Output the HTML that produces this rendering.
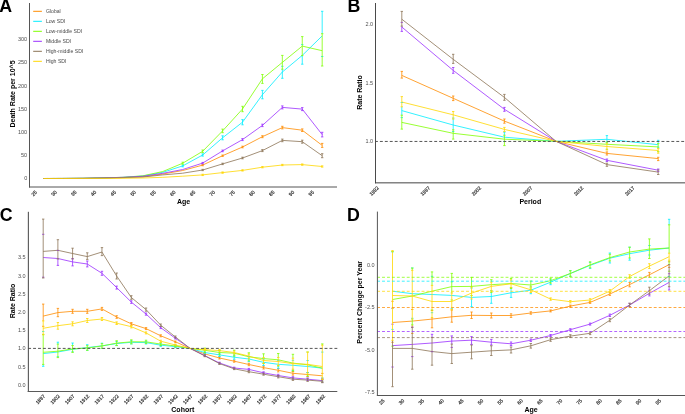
<!DOCTYPE html>
<html><head><meta charset="utf-8"><style>
html,body{margin:0;padding:0;background:#fff;}
svg{display:block;font-family:"Liberation Sans", sans-serif;will-change:transform;}
</style></head><body>
<svg width="685" height="414" viewBox="0 0 685 414">
<rect width="685" height="414" fill="#fff"/>
<polyline points="43.30,178.50 63.22,178.45 83.14,178.35 103.06,178.00 122.98,177.60 142.90,176.80 162.82,174.00 182.74,170.50 202.66,165.10 222.58,155.70 242.50,147.00 262.42,136.70 282.34,127.60 302.26,130.20 322.18,145.40" fill="none" stroke="#FF8C00" stroke-width="0.8" stroke-linejoin="round"/>
<polyline points="43.30,178.50 63.22,178.45 83.14,178.30 103.06,177.90 122.98,177.40 142.90,176.00 162.82,172.30 182.74,165.90 202.66,155.00 222.58,137.80 242.50,122.20 262.42,94.70 282.34,72.00 302.26,55.40 322.18,35.90" fill="none" stroke="#00EEFF" stroke-width="0.8" stroke-linejoin="round"/>
<polyline points="43.30,178.50 63.22,178.45 83.14,178.30 103.06,177.90 122.98,177.30 142.90,175.80 162.82,171.50 182.74,163.20 202.66,151.30 222.58,130.90 242.50,109.00 262.42,78.80 282.34,62.40 302.26,46.10 322.18,50.70" fill="none" stroke="#7FFF00" stroke-width="0.8" stroke-linejoin="round"/>
<polyline points="43.30,178.50 63.22,178.45 83.14,178.30 103.06,177.90 122.98,177.30 142.90,176.30 162.82,173.30 182.74,169.50 202.66,163.10 222.58,150.90 242.50,139.60 262.42,125.40 282.34,107.40 302.26,109.10 322.18,134.60" fill="none" stroke="#9B30FF" stroke-width="0.8" stroke-linejoin="round"/>
<polyline points="43.30,178.50 63.22,178.45 83.14,178.35 103.06,178.00 122.98,177.60 142.90,177.00 162.82,174.90 182.74,173.20 202.66,170.00 222.58,163.90 242.50,158.00 262.42,150.60 282.34,140.40 302.26,141.70 322.18,155.70" fill="none" stroke="#8B7355" stroke-width="0.8" stroke-linejoin="round"/>
<polyline points="43.30,178.50 63.22,178.50 83.14,178.45 103.06,178.40 122.98,178.30 142.90,178.00 162.82,177.30 182.74,176.20 202.66,174.90 222.58,172.60 242.50,170.40 262.42,167.20 282.34,165.00 302.26,164.60 322.18,166.50" fill="none" stroke="#FFD700" stroke-width="0.8" stroke-linejoin="round"/>
<line x1="202.66" y1="164.45" x2="202.66" y2="165.75" stroke="#FF8C00" stroke-width="0.8"/>
<line x1="201.46" y1="164.45" x2="203.86" y2="164.45" stroke="#FF8C00" stroke-width="0.8"/>
<line x1="201.46" y1="165.75" x2="203.86" y2="165.75" stroke="#FF8C00" stroke-width="0.8"/>
<line x1="222.58" y1="155.00" x2="222.58" y2="156.40" stroke="#FF8C00" stroke-width="0.8"/>
<line x1="221.38" y1="155.00" x2="223.78" y2="155.00" stroke="#FF8C00" stroke-width="0.8"/>
<line x1="221.38" y1="156.40" x2="223.78" y2="156.40" stroke="#FF8C00" stroke-width="0.8"/>
<line x1="242.50" y1="146.20" x2="242.50" y2="147.80" stroke="#FF8C00" stroke-width="0.8"/>
<line x1="241.30" y1="146.20" x2="243.70" y2="146.20" stroke="#FF8C00" stroke-width="0.8"/>
<line x1="241.30" y1="147.80" x2="243.70" y2="147.80" stroke="#FF8C00" stroke-width="0.8"/>
<line x1="262.42" y1="135.70" x2="262.42" y2="137.70" stroke="#FF8C00" stroke-width="0.8"/>
<line x1="261.22" y1="135.70" x2="263.62" y2="135.70" stroke="#FF8C00" stroke-width="0.8"/>
<line x1="261.22" y1="137.70" x2="263.62" y2="137.70" stroke="#FF8C00" stroke-width="0.8"/>
<line x1="282.34" y1="126.30" x2="282.34" y2="128.90" stroke="#FF8C00" stroke-width="0.8"/>
<line x1="281.14" y1="126.30" x2="283.54" y2="126.30" stroke="#FF8C00" stroke-width="0.8"/>
<line x1="281.14" y1="128.90" x2="283.54" y2="128.90" stroke="#FF8C00" stroke-width="0.8"/>
<line x1="302.26" y1="128.90" x2="302.26" y2="131.50" stroke="#FF8C00" stroke-width="0.8"/>
<line x1="301.06" y1="128.90" x2="303.46" y2="128.90" stroke="#FF8C00" stroke-width="0.8"/>
<line x1="301.06" y1="131.50" x2="303.46" y2="131.50" stroke="#FF8C00" stroke-width="0.8"/>
<line x1="322.18" y1="143.40" x2="322.18" y2="147.40" stroke="#FF8C00" stroke-width="0.8"/>
<line x1="320.98" y1="143.40" x2="323.38" y2="143.40" stroke="#FF8C00" stroke-width="0.8"/>
<line x1="320.98" y1="147.40" x2="323.38" y2="147.40" stroke="#FF8C00" stroke-width="0.8"/>
<line x1="182.74" y1="165.00" x2="182.74" y2="166.80" stroke="#00EEFF" stroke-width="0.8"/>
<line x1="181.54" y1="165.00" x2="183.94" y2="165.00" stroke="#00EEFF" stroke-width="0.8"/>
<line x1="181.54" y1="166.80" x2="183.94" y2="166.80" stroke="#00EEFF" stroke-width="0.8"/>
<line x1="202.66" y1="153.90" x2="202.66" y2="156.10" stroke="#00EEFF" stroke-width="0.8"/>
<line x1="201.46" y1="153.90" x2="203.86" y2="153.90" stroke="#00EEFF" stroke-width="0.8"/>
<line x1="201.46" y1="156.10" x2="203.86" y2="156.10" stroke="#00EEFF" stroke-width="0.8"/>
<line x1="222.58" y1="135.80" x2="222.58" y2="139.80" stroke="#00EEFF" stroke-width="0.8"/>
<line x1="221.38" y1="135.80" x2="223.78" y2="135.80" stroke="#00EEFF" stroke-width="0.8"/>
<line x1="221.38" y1="139.80" x2="223.78" y2="139.80" stroke="#00EEFF" stroke-width="0.8"/>
<line x1="242.50" y1="119.60" x2="242.50" y2="124.80" stroke="#00EEFF" stroke-width="0.8"/>
<line x1="241.30" y1="119.60" x2="243.70" y2="119.60" stroke="#00EEFF" stroke-width="0.8"/>
<line x1="241.30" y1="124.80" x2="243.70" y2="124.80" stroke="#00EEFF" stroke-width="0.8"/>
<line x1="262.42" y1="90.40" x2="262.42" y2="98.80" stroke="#00EEFF" stroke-width="0.8"/>
<line x1="261.22" y1="90.40" x2="263.62" y2="90.40" stroke="#00EEFF" stroke-width="0.8"/>
<line x1="261.22" y1="98.80" x2="263.62" y2="98.80" stroke="#00EEFF" stroke-width="0.8"/>
<line x1="282.34" y1="69.20" x2="282.34" y2="78.30" stroke="#00EEFF" stroke-width="0.8"/>
<line x1="281.14" y1="66.30" x2="283.54" y2="66.30" stroke="#00EEFF" stroke-width="0.8"/>
<line x1="281.14" y1="78.30" x2="283.54" y2="78.30" stroke="#00EEFF" stroke-width="0.8"/>
<line x1="302.26" y1="55.60" x2="302.26" y2="64.20" stroke="#00EEFF" stroke-width="0.8"/>
<line x1="301.06" y1="44.60" x2="303.46" y2="44.60" stroke="#00EEFF" stroke-width="0.8"/>
<line x1="301.06" y1="64.20" x2="303.46" y2="64.20" stroke="#00EEFF" stroke-width="0.8"/>
<line x1="322.18" y1="11.30" x2="322.18" y2="33.70" stroke="#00EEFF" stroke-width="0.8"/>
<line x1="320.98" y1="11.30" x2="323.38" y2="11.30" stroke="#00EEFF" stroke-width="0.8"/>
<line x1="320.98" y1="56.50" x2="323.38" y2="56.50" stroke="#00EEFF" stroke-width="0.8"/>
<line x1="182.74" y1="162.20" x2="182.74" y2="164.20" stroke="#7FFF00" stroke-width="0.8"/>
<line x1="181.54" y1="162.20" x2="183.94" y2="162.20" stroke="#7FFF00" stroke-width="0.8"/>
<line x1="181.54" y1="164.20" x2="183.94" y2="164.20" stroke="#7FFF00" stroke-width="0.8"/>
<line x1="202.66" y1="150.00" x2="202.66" y2="152.60" stroke="#7FFF00" stroke-width="0.8"/>
<line x1="201.46" y1="150.00" x2="203.86" y2="150.00" stroke="#7FFF00" stroke-width="0.8"/>
<line x1="201.46" y1="152.60" x2="203.86" y2="152.60" stroke="#7FFF00" stroke-width="0.8"/>
<line x1="222.58" y1="129.10" x2="222.58" y2="132.70" stroke="#7FFF00" stroke-width="0.8"/>
<line x1="221.38" y1="129.10" x2="223.78" y2="129.10" stroke="#7FFF00" stroke-width="0.8"/>
<line x1="221.38" y1="132.70" x2="223.78" y2="132.70" stroke="#7FFF00" stroke-width="0.8"/>
<line x1="242.50" y1="106.30" x2="242.50" y2="111.70" stroke="#7FFF00" stroke-width="0.8"/>
<line x1="241.30" y1="106.30" x2="243.70" y2="106.30" stroke="#7FFF00" stroke-width="0.8"/>
<line x1="241.30" y1="111.70" x2="243.70" y2="111.70" stroke="#7FFF00" stroke-width="0.8"/>
<line x1="262.42" y1="74.50" x2="262.42" y2="83.40" stroke="#7FFF00" stroke-width="0.8"/>
<line x1="261.22" y1="74.50" x2="263.62" y2="74.50" stroke="#7FFF00" stroke-width="0.8"/>
<line x1="261.22" y1="83.40" x2="263.62" y2="83.40" stroke="#7FFF00" stroke-width="0.8"/>
<line x1="282.34" y1="55.40" x2="282.34" y2="69.20" stroke="#7FFF00" stroke-width="0.8"/>
<line x1="281.14" y1="55.40" x2="283.54" y2="55.40" stroke="#7FFF00" stroke-width="0.8"/>
<line x1="281.14" y1="69.20" x2="283.54" y2="69.20" stroke="#7FFF00" stroke-width="0.8"/>
<line x1="302.26" y1="36.60" x2="302.26" y2="55.60" stroke="#7FFF00" stroke-width="0.8"/>
<line x1="301.06" y1="36.60" x2="303.46" y2="36.60" stroke="#7FFF00" stroke-width="0.8"/>
<line x1="301.06" y1="55.60" x2="303.46" y2="55.60" stroke="#7FFF00" stroke-width="0.8"/>
<line x1="322.18" y1="33.70" x2="322.18" y2="66.00" stroke="#7FFF00" stroke-width="0.8"/>
<line x1="320.98" y1="33.70" x2="323.38" y2="33.70" stroke="#7FFF00" stroke-width="0.8"/>
<line x1="320.98" y1="66.00" x2="323.38" y2="66.00" stroke="#7FFF00" stroke-width="0.8"/>
<line x1="202.66" y1="162.40" x2="202.66" y2="163.80" stroke="#9B30FF" stroke-width="0.8"/>
<line x1="201.46" y1="162.40" x2="203.86" y2="162.40" stroke="#9B30FF" stroke-width="0.8"/>
<line x1="201.46" y1="163.80" x2="203.86" y2="163.80" stroke="#9B30FF" stroke-width="0.8"/>
<line x1="222.58" y1="150.10" x2="222.58" y2="151.70" stroke="#9B30FF" stroke-width="0.8"/>
<line x1="221.38" y1="150.10" x2="223.78" y2="150.10" stroke="#9B30FF" stroke-width="0.8"/>
<line x1="221.38" y1="151.70" x2="223.78" y2="151.70" stroke="#9B30FF" stroke-width="0.8"/>
<line x1="242.50" y1="138.60" x2="242.50" y2="140.60" stroke="#9B30FF" stroke-width="0.8"/>
<line x1="241.30" y1="138.60" x2="243.70" y2="138.60" stroke="#9B30FF" stroke-width="0.8"/>
<line x1="241.30" y1="140.60" x2="243.70" y2="140.60" stroke="#9B30FF" stroke-width="0.8"/>
<line x1="262.42" y1="124.20" x2="262.42" y2="126.60" stroke="#9B30FF" stroke-width="0.8"/>
<line x1="261.22" y1="124.20" x2="263.62" y2="124.20" stroke="#9B30FF" stroke-width="0.8"/>
<line x1="261.22" y1="126.60" x2="263.62" y2="126.60" stroke="#9B30FF" stroke-width="0.8"/>
<line x1="282.34" y1="105.90" x2="282.34" y2="108.90" stroke="#9B30FF" stroke-width="0.8"/>
<line x1="281.14" y1="105.90" x2="283.54" y2="105.90" stroke="#9B30FF" stroke-width="0.8"/>
<line x1="281.14" y1="108.90" x2="283.54" y2="108.90" stroke="#9B30FF" stroke-width="0.8"/>
<line x1="302.26" y1="107.60" x2="302.26" y2="110.60" stroke="#9B30FF" stroke-width="0.8"/>
<line x1="301.06" y1="107.60" x2="303.46" y2="107.60" stroke="#9B30FF" stroke-width="0.8"/>
<line x1="301.06" y1="110.60" x2="303.46" y2="110.60" stroke="#9B30FF" stroke-width="0.8"/>
<line x1="322.18" y1="132.30" x2="322.18" y2="136.90" stroke="#9B30FF" stroke-width="0.8"/>
<line x1="320.98" y1="132.30" x2="323.38" y2="132.30" stroke="#9B30FF" stroke-width="0.8"/>
<line x1="320.98" y1="136.90" x2="323.38" y2="136.90" stroke="#9B30FF" stroke-width="0.8"/>
<line x1="202.66" y1="169.35" x2="202.66" y2="170.65" stroke="#8B7355" stroke-width="0.8"/>
<line x1="201.46" y1="169.35" x2="203.86" y2="169.35" stroke="#8B7355" stroke-width="0.8"/>
<line x1="201.46" y1="170.65" x2="203.86" y2="170.65" stroke="#8B7355" stroke-width="0.8"/>
<line x1="222.58" y1="163.20" x2="222.58" y2="164.60" stroke="#8B7355" stroke-width="0.8"/>
<line x1="221.38" y1="163.20" x2="223.78" y2="163.20" stroke="#8B7355" stroke-width="0.8"/>
<line x1="221.38" y1="164.60" x2="223.78" y2="164.60" stroke="#8B7355" stroke-width="0.8"/>
<line x1="242.50" y1="157.20" x2="242.50" y2="158.80" stroke="#8B7355" stroke-width="0.8"/>
<line x1="241.30" y1="157.20" x2="243.70" y2="157.20" stroke="#8B7355" stroke-width="0.8"/>
<line x1="241.30" y1="158.80" x2="243.70" y2="158.80" stroke="#8B7355" stroke-width="0.8"/>
<line x1="262.42" y1="149.60" x2="262.42" y2="151.60" stroke="#8B7355" stroke-width="0.8"/>
<line x1="261.22" y1="149.60" x2="263.62" y2="149.60" stroke="#8B7355" stroke-width="0.8"/>
<line x1="261.22" y1="151.60" x2="263.62" y2="151.60" stroke="#8B7355" stroke-width="0.8"/>
<line x1="282.34" y1="139.10" x2="282.34" y2="141.70" stroke="#8B7355" stroke-width="0.8"/>
<line x1="281.14" y1="139.10" x2="283.54" y2="139.10" stroke="#8B7355" stroke-width="0.8"/>
<line x1="281.14" y1="141.70" x2="283.54" y2="141.70" stroke="#8B7355" stroke-width="0.8"/>
<line x1="302.26" y1="140.20" x2="302.26" y2="143.20" stroke="#8B7355" stroke-width="0.8"/>
<line x1="301.06" y1="140.20" x2="303.46" y2="140.20" stroke="#8B7355" stroke-width="0.8"/>
<line x1="301.06" y1="143.20" x2="303.46" y2="143.20" stroke="#8B7355" stroke-width="0.8"/>
<line x1="322.18" y1="153.70" x2="322.18" y2="157.70" stroke="#8B7355" stroke-width="0.8"/>
<line x1="320.98" y1="153.70" x2="323.38" y2="153.70" stroke="#8B7355" stroke-width="0.8"/>
<line x1="320.98" y1="157.70" x2="323.38" y2="157.70" stroke="#8B7355" stroke-width="0.8"/>
<line x1="202.66" y1="174.25" x2="202.66" y2="175.55" stroke="#FFD700" stroke-width="0.8"/>
<line x1="201.46" y1="174.25" x2="203.86" y2="174.25" stroke="#FFD700" stroke-width="0.8"/>
<line x1="201.46" y1="175.55" x2="203.86" y2="175.55" stroke="#FFD700" stroke-width="0.8"/>
<line x1="222.58" y1="171.95" x2="222.58" y2="173.25" stroke="#FFD700" stroke-width="0.8"/>
<line x1="221.38" y1="171.95" x2="223.78" y2="171.95" stroke="#FFD700" stroke-width="0.8"/>
<line x1="221.38" y1="173.25" x2="223.78" y2="173.25" stroke="#FFD700" stroke-width="0.8"/>
<line x1="242.50" y1="169.75" x2="242.50" y2="171.05" stroke="#FFD700" stroke-width="0.8"/>
<line x1="241.30" y1="169.75" x2="243.70" y2="169.75" stroke="#FFD700" stroke-width="0.8"/>
<line x1="241.30" y1="171.05" x2="243.70" y2="171.05" stroke="#FFD700" stroke-width="0.8"/>
<line x1="262.42" y1="166.55" x2="262.42" y2="167.85" stroke="#FFD700" stroke-width="0.8"/>
<line x1="261.22" y1="166.55" x2="263.62" y2="166.55" stroke="#FFD700" stroke-width="0.8"/>
<line x1="261.22" y1="167.85" x2="263.62" y2="167.85" stroke="#FFD700" stroke-width="0.8"/>
<line x1="282.34" y1="164.35" x2="282.34" y2="165.65" stroke="#FFD700" stroke-width="0.8"/>
<line x1="281.14" y1="164.35" x2="283.54" y2="164.35" stroke="#FFD700" stroke-width="0.8"/>
<line x1="281.14" y1="165.65" x2="283.54" y2="165.65" stroke="#FFD700" stroke-width="0.8"/>
<line x1="302.26" y1="163.95" x2="302.26" y2="165.25" stroke="#FFD700" stroke-width="0.8"/>
<line x1="301.06" y1="163.95" x2="303.46" y2="163.95" stroke="#FFD700" stroke-width="0.8"/>
<line x1="301.06" y1="165.25" x2="303.46" y2="165.25" stroke="#FFD700" stroke-width="0.8"/>
<line x1="322.18" y1="165.85" x2="322.18" y2="167.15" stroke="#FFD700" stroke-width="0.8"/>
<line x1="320.98" y1="165.85" x2="323.38" y2="165.85" stroke="#FFD700" stroke-width="0.8"/>
<line x1="320.98" y1="167.15" x2="323.38" y2="167.15" stroke="#FFD700" stroke-width="0.8"/>
<line x1="29.50" y1="3.00" x2="29.50" y2="187.50" stroke="#555" stroke-width="1"/>
<line x1="29.00" y1="187.00" x2="337.00" y2="187.00" stroke="#555" stroke-width="1"/>
<text x="27.20" y="180.20" font-size="5.5" text-anchor="end" font-weight="normal" fill="#4d4d4d">0</text>
<text x="27.20" y="157.05" font-size="5.5" text-anchor="end" font-weight="normal" fill="#4d4d4d">50</text>
<text x="27.20" y="133.90" font-size="5.5" text-anchor="end" font-weight="normal" fill="#4d4d4d">100</text>
<text x="27.20" y="110.75" font-size="5.5" text-anchor="end" font-weight="normal" fill="#4d4d4d">150</text>
<text x="27.20" y="87.60" font-size="5.5" text-anchor="end" font-weight="normal" fill="#4d4d4d">200</text>
<text x="27.20" y="64.45" font-size="5.5" text-anchor="end" font-weight="normal" fill="#4d4d4d">250</text>
<text x="27.20" y="41.30" font-size="5.5" text-anchor="end" font-weight="normal" fill="#4d4d4d">300</text>
<text transform="translate(34.10 193.30) rotate(-45)" x="0" y="1.79" font-size="5.0" text-anchor="middle" fill="#333" stroke="#333" stroke-width="0.2">25</text>
<text transform="translate(53.90 193.30) rotate(-45)" x="0" y="1.79" font-size="5.0" text-anchor="middle" fill="#333" stroke="#333" stroke-width="0.2">30</text>
<text transform="translate(73.70 193.30) rotate(-45)" x="0" y="1.79" font-size="5.0" text-anchor="middle" fill="#333" stroke="#333" stroke-width="0.2">35</text>
<text transform="translate(93.50 193.30) rotate(-45)" x="0" y="1.79" font-size="5.0" text-anchor="middle" fill="#333" stroke="#333" stroke-width="0.2">40</text>
<text transform="translate(113.30 193.30) rotate(-45)" x="0" y="1.79" font-size="5.0" text-anchor="middle" fill="#333" stroke="#333" stroke-width="0.2">45</text>
<text transform="translate(133.10 193.30) rotate(-45)" x="0" y="1.79" font-size="5.0" text-anchor="middle" fill="#333" stroke="#333" stroke-width="0.2">50</text>
<text transform="translate(152.90 193.30) rotate(-45)" x="0" y="1.79" font-size="5.0" text-anchor="middle" fill="#333" stroke="#333" stroke-width="0.2">55</text>
<text transform="translate(172.70 193.30) rotate(-45)" x="0" y="1.79" font-size="5.0" text-anchor="middle" fill="#333" stroke="#333" stroke-width="0.2">60</text>
<text transform="translate(192.50 193.30) rotate(-45)" x="0" y="1.79" font-size="5.0" text-anchor="middle" fill="#333" stroke="#333" stroke-width="0.2">65</text>
<text transform="translate(212.30 193.30) rotate(-45)" x="0" y="1.79" font-size="5.0" text-anchor="middle" fill="#333" stroke="#333" stroke-width="0.2">70</text>
<text transform="translate(232.10 193.30) rotate(-45)" x="0" y="1.79" font-size="5.0" text-anchor="middle" fill="#333" stroke="#333" stroke-width="0.2">75</text>
<text transform="translate(251.90 193.30) rotate(-45)" x="0" y="1.79" font-size="5.0" text-anchor="middle" fill="#333" stroke="#333" stroke-width="0.2">80</text>
<text transform="translate(271.70 193.30) rotate(-45)" x="0" y="1.79" font-size="5.0" text-anchor="middle" fill="#333" stroke="#333" stroke-width="0.2">85</text>
<text transform="translate(291.50 193.30) rotate(-45)" x="0" y="1.79" font-size="5.0" text-anchor="middle" fill="#333" stroke="#333" stroke-width="0.2">90</text>
<text transform="translate(311.30 193.30) rotate(-45)" x="0" y="1.79" font-size="5.0" text-anchor="middle" fill="#333" stroke="#333" stroke-width="0.2">95</text>
<text x="183.50" y="204.00" font-size="7" text-anchor="middle" font-weight="bold" fill="#000">Age</text>
<text x="15.20" y="94.00" font-size="7" text-anchor="middle" font-weight="bold" fill="#000" transform="rotate(-90 15.20 94.00)">Death Rate per 10^5</text>
<line x1="33.20" y1="11.30" x2="41.90" y2="11.30" stroke="#FF8C00" stroke-width="1"/>
<text x="45.90" y="13.15" font-size="5.15" text-anchor="start" font-weight="normal" fill="#4a4a4a">Global</text>
<line x1="33.20" y1="21.30" x2="41.90" y2="21.30" stroke="#00EEFF" stroke-width="1"/>
<text x="45.90" y="23.15" font-size="5.15" text-anchor="start" font-weight="normal" fill="#4a4a4a">Low SDI</text>
<line x1="33.20" y1="31.30" x2="41.90" y2="31.30" stroke="#7FFF00" stroke-width="1"/>
<text x="45.90" y="33.15" font-size="5.15" text-anchor="start" font-weight="normal" fill="#4a4a4a">Low-middle SDI</text>
<line x1="33.20" y1="41.30" x2="41.90" y2="41.30" stroke="#9B30FF" stroke-width="1"/>
<text x="45.90" y="43.15" font-size="5.15" text-anchor="start" font-weight="normal" fill="#4a4a4a">Middle SDI</text>
<line x1="33.20" y1="51.30" x2="41.90" y2="51.30" stroke="#8B7355" stroke-width="1"/>
<text x="45.90" y="53.15" font-size="5.15" text-anchor="start" font-weight="normal" fill="#4a4a4a">High-middle SDI</text>
<line x1="33.20" y1="61.30" x2="41.90" y2="61.30" stroke="#FFD700" stroke-width="1"/>
<text x="45.90" y="63.15" font-size="5.15" text-anchor="start" font-weight="normal" fill="#4a4a4a">High SDI</text>
<text x="-0.70" y="12.40" font-size="17.8" text-anchor="start" font-weight="bold" fill="#000">A</text>
<polyline points="401.80,75.40 453.20,98.30 504.40,121.10 556.00,141.30 606.90,153.40 658.20,158.60" fill="none" stroke="#FF8C00" stroke-width="0.8" stroke-linejoin="round"/>
<polyline points="401.80,110.60 453.20,125.00 504.40,137.20 556.00,141.30 606.90,139.30 658.20,144.70" fill="none" stroke="#00EEFF" stroke-width="0.8" stroke-linejoin="round"/>
<polyline points="401.80,122.40 453.20,133.30 504.40,139.20 556.00,141.30 606.90,144.30 658.20,146.90" fill="none" stroke="#7FFF00" stroke-width="0.8" stroke-linejoin="round"/>
<polyline points="401.80,27.00 453.20,70.40 504.40,109.30 556.00,141.30 606.90,160.30 658.20,170.20" fill="none" stroke="#9B30FF" stroke-width="0.8" stroke-linejoin="round"/>
<polyline points="401.80,19.20 453.20,59.30 504.40,97.40 556.00,141.30 606.90,164.60 658.20,172.10" fill="none" stroke="#8B7355" stroke-width="0.8" stroke-linejoin="round"/>
<polyline points="401.80,102.00 453.20,114.80 504.40,129.40 556.00,141.30 606.90,146.50 658.20,150.50" fill="none" stroke="#FFD700" stroke-width="0.8" stroke-linejoin="round"/>
<line x1="401.80" y1="71.40" x2="401.80" y2="78.10" stroke="#FF8C00" stroke-width="0.8"/>
<line x1="400.60" y1="71.40" x2="403.00" y2="71.40" stroke="#FF8C00" stroke-width="0.8"/>
<line x1="400.60" y1="78.10" x2="403.00" y2="78.10" stroke="#FF8C00" stroke-width="0.8"/>
<line x1="453.20" y1="96.00" x2="453.20" y2="100.60" stroke="#FF8C00" stroke-width="0.8"/>
<line x1="452.00" y1="96.00" x2="454.40" y2="96.00" stroke="#FF8C00" stroke-width="0.8"/>
<line x1="452.00" y1="100.60" x2="454.40" y2="100.60" stroke="#FF8C00" stroke-width="0.8"/>
<line x1="504.40" y1="119.00" x2="504.40" y2="123.20" stroke="#FF8C00" stroke-width="0.8"/>
<line x1="503.20" y1="119.00" x2="505.60" y2="119.00" stroke="#FF8C00" stroke-width="0.8"/>
<line x1="503.20" y1="123.20" x2="505.60" y2="123.20" stroke="#FF8C00" stroke-width="0.8"/>
<line x1="606.90" y1="151.90" x2="606.90" y2="155.00" stroke="#FF8C00" stroke-width="0.8"/>
<line x1="605.70" y1="151.90" x2="608.10" y2="151.90" stroke="#FF8C00" stroke-width="0.8"/>
<line x1="605.70" y1="155.00" x2="608.10" y2="155.00" stroke="#FF8C00" stroke-width="0.8"/>
<line x1="658.20" y1="157.30" x2="658.20" y2="160.60" stroke="#FF8C00" stroke-width="0.8"/>
<line x1="657.00" y1="157.30" x2="659.40" y2="157.30" stroke="#FF8C00" stroke-width="0.8"/>
<line x1="657.00" y1="160.60" x2="659.40" y2="160.60" stroke="#FF8C00" stroke-width="0.8"/>
<line x1="401.80" y1="106.80" x2="401.80" y2="115.20" stroke="#00EEFF" stroke-width="0.8"/>
<line x1="400.60" y1="102.50" x2="403.00" y2="102.50" stroke="#00EEFF" stroke-width="0.8"/>
<line x1="400.60" y1="117.60" x2="403.00" y2="117.60" stroke="#00EEFF" stroke-width="0.8"/>
<line x1="453.20" y1="119.00" x2="453.20" y2="129.80" stroke="#00EEFF" stroke-width="0.8"/>
<line x1="452.00" y1="118.00" x2="454.40" y2="118.00" stroke="#00EEFF" stroke-width="0.8"/>
<line x1="452.00" y1="131.50" x2="454.40" y2="131.50" stroke="#00EEFF" stroke-width="0.8"/>
<line x1="504.40" y1="132.10" x2="504.40" y2="135.20" stroke="#00EEFF" stroke-width="0.8"/>
<line x1="503.20" y1="132.10" x2="505.60" y2="132.10" stroke="#00EEFF" stroke-width="0.8"/>
<line x1="503.20" y1="141.50" x2="505.60" y2="141.50" stroke="#00EEFF" stroke-width="0.8"/>
<line x1="606.90" y1="135.60" x2="606.90" y2="141.90" stroke="#00EEFF" stroke-width="0.8"/>
<line x1="605.70" y1="135.60" x2="608.10" y2="135.60" stroke="#00EEFF" stroke-width="0.8"/>
<line x1="605.70" y1="142.40" x2="608.10" y2="142.40" stroke="#00EEFF" stroke-width="0.8"/>
<line x1="658.20" y1="140.30" x2="658.20" y2="143.60" stroke="#00EEFF" stroke-width="0.8"/>
<line x1="657.00" y1="140.30" x2="659.40" y2="140.30" stroke="#00EEFF" stroke-width="0.8"/>
<line x1="657.00" y1="147.20" x2="659.40" y2="147.20" stroke="#00EEFF" stroke-width="0.8"/>
<line x1="401.80" y1="115.20" x2="401.80" y2="129.10" stroke="#7FFF00" stroke-width="0.8"/>
<line x1="400.60" y1="115.20" x2="403.00" y2="115.20" stroke="#7FFF00" stroke-width="0.8"/>
<line x1="400.60" y1="129.10" x2="403.00" y2="129.10" stroke="#7FFF00" stroke-width="0.8"/>
<line x1="453.20" y1="129.80" x2="453.20" y2="139.10" stroke="#7FFF00" stroke-width="0.8"/>
<line x1="452.00" y1="129.80" x2="454.40" y2="129.80" stroke="#7FFF00" stroke-width="0.8"/>
<line x1="452.00" y1="139.10" x2="454.40" y2="139.10" stroke="#7FFF00" stroke-width="0.8"/>
<line x1="504.40" y1="135.20" x2="504.40" y2="145.60" stroke="#7FFF00" stroke-width="0.8"/>
<line x1="503.20" y1="135.20" x2="505.60" y2="135.20" stroke="#7FFF00" stroke-width="0.8"/>
<line x1="503.20" y1="145.60" x2="505.60" y2="145.60" stroke="#7FFF00" stroke-width="0.8"/>
<line x1="606.90" y1="141.90" x2="606.90" y2="143.20" stroke="#7FFF00" stroke-width="0.8"/>
<line x1="605.70" y1="141.90" x2="608.10" y2="141.90" stroke="#7FFF00" stroke-width="0.8"/>
<line x1="605.70" y1="149.20" x2="608.10" y2="149.20" stroke="#7FFF00" stroke-width="0.8"/>
<line x1="658.20" y1="143.60" x2="658.20" y2="148.60" stroke="#7FFF00" stroke-width="0.8"/>
<line x1="657.00" y1="143.60" x2="659.40" y2="143.60" stroke="#7FFF00" stroke-width="0.8"/>
<line x1="657.00" y1="151.60" x2="659.40" y2="151.60" stroke="#7FFF00" stroke-width="0.8"/>
<line x1="401.80" y1="26.10" x2="401.80" y2="31.40" stroke="#9B30FF" stroke-width="0.8"/>
<line x1="400.60" y1="22.40" x2="403.00" y2="22.40" stroke="#9B30FF" stroke-width="0.8"/>
<line x1="400.60" y1="31.40" x2="403.00" y2="31.40" stroke="#9B30FF" stroke-width="0.8"/>
<line x1="453.20" y1="67.50" x2="453.20" y2="73.30" stroke="#9B30FF" stroke-width="0.8"/>
<line x1="452.00" y1="67.50" x2="454.40" y2="67.50" stroke="#9B30FF" stroke-width="0.8"/>
<line x1="452.00" y1="73.30" x2="454.40" y2="73.30" stroke="#9B30FF" stroke-width="0.8"/>
<line x1="504.40" y1="107.40" x2="504.40" y2="111.30" stroke="#9B30FF" stroke-width="0.8"/>
<line x1="503.20" y1="107.40" x2="505.60" y2="107.40" stroke="#9B30FF" stroke-width="0.8"/>
<line x1="503.20" y1="111.30" x2="505.60" y2="111.30" stroke="#9B30FF" stroke-width="0.8"/>
<line x1="606.90" y1="159.00" x2="606.90" y2="161.50" stroke="#9B30FF" stroke-width="0.8"/>
<line x1="605.70" y1="159.00" x2="608.10" y2="159.00" stroke="#9B30FF" stroke-width="0.8"/>
<line x1="605.70" y1="161.50" x2="608.10" y2="161.50" stroke="#9B30FF" stroke-width="0.8"/>
<line x1="658.20" y1="169.00" x2="658.20" y2="170.00" stroke="#9B30FF" stroke-width="0.8"/>
<line x1="657.00" y1="169.00" x2="659.40" y2="169.00" stroke="#9B30FF" stroke-width="0.8"/>
<line x1="657.00" y1="171.60" x2="659.40" y2="171.60" stroke="#9B30FF" stroke-width="0.8"/>
<line x1="401.80" y1="11.40" x2="401.80" y2="26.10" stroke="#8B7355" stroke-width="0.8"/>
<line x1="400.60" y1="11.40" x2="403.00" y2="11.40" stroke="#8B7355" stroke-width="0.8"/>
<line x1="400.60" y1="26.10" x2="403.00" y2="26.10" stroke="#8B7355" stroke-width="0.8"/>
<line x1="453.20" y1="54.30" x2="453.20" y2="63.40" stroke="#8B7355" stroke-width="0.8"/>
<line x1="452.00" y1="54.30" x2="454.40" y2="54.30" stroke="#8B7355" stroke-width="0.8"/>
<line x1="452.00" y1="63.40" x2="454.40" y2="63.40" stroke="#8B7355" stroke-width="0.8"/>
<line x1="504.40" y1="94.40" x2="504.40" y2="100.30" stroke="#8B7355" stroke-width="0.8"/>
<line x1="503.20" y1="94.40" x2="505.60" y2="94.40" stroke="#8B7355" stroke-width="0.8"/>
<line x1="503.20" y1="100.30" x2="505.60" y2="100.30" stroke="#8B7355" stroke-width="0.8"/>
<line x1="606.90" y1="163.20" x2="606.90" y2="166.30" stroke="#8B7355" stroke-width="0.8"/>
<line x1="605.70" y1="163.20" x2="608.10" y2="163.20" stroke="#8B7355" stroke-width="0.8"/>
<line x1="605.70" y1="166.30" x2="608.10" y2="166.30" stroke="#8B7355" stroke-width="0.8"/>
<line x1="658.20" y1="170.00" x2="658.20" y2="174.50" stroke="#8B7355" stroke-width="0.8"/>
<line x1="657.00" y1="170.00" x2="659.40" y2="170.00" stroke="#8B7355" stroke-width="0.8"/>
<line x1="657.00" y1="174.50" x2="659.40" y2="174.50" stroke="#8B7355" stroke-width="0.8"/>
<line x1="401.80" y1="96.60" x2="401.80" y2="106.80" stroke="#FFD700" stroke-width="0.8"/>
<line x1="400.60" y1="96.60" x2="403.00" y2="96.60" stroke="#FFD700" stroke-width="0.8"/>
<line x1="400.60" y1="106.80" x2="403.00" y2="106.80" stroke="#FFD700" stroke-width="0.8"/>
<line x1="453.20" y1="111.50" x2="453.20" y2="119.00" stroke="#FFD700" stroke-width="0.8"/>
<line x1="452.00" y1="111.50" x2="454.40" y2="111.50" stroke="#FFD700" stroke-width="0.8"/>
<line x1="452.00" y1="119.00" x2="454.40" y2="119.00" stroke="#FFD700" stroke-width="0.8"/>
<line x1="504.40" y1="127.40" x2="504.40" y2="131.60" stroke="#FFD700" stroke-width="0.8"/>
<line x1="503.20" y1="127.40" x2="505.60" y2="127.40" stroke="#FFD700" stroke-width="0.8"/>
<line x1="503.20" y1="131.60" x2="505.60" y2="131.60" stroke="#FFD700" stroke-width="0.8"/>
<line x1="606.90" y1="143.20" x2="606.90" y2="150.00" stroke="#FFD700" stroke-width="0.8"/>
<line x1="605.70" y1="143.20" x2="608.10" y2="143.20" stroke="#FFD700" stroke-width="0.8"/>
<line x1="605.70" y1="150.00" x2="608.10" y2="150.00" stroke="#FFD700" stroke-width="0.8"/>
<line x1="658.20" y1="148.60" x2="658.20" y2="153.20" stroke="#FFD700" stroke-width="0.8"/>
<line x1="657.00" y1="148.60" x2="659.40" y2="148.60" stroke="#FFD700" stroke-width="0.8"/>
<line x1="657.00" y1="153.20" x2="659.40" y2="153.20" stroke="#FFD700" stroke-width="0.8"/>
<line x1="375.50" y1="141.45" x2="685.00" y2="141.45" stroke="#555" stroke-width="1.0" stroke-dasharray="2.9,2.04" stroke-dashoffset="0.54"/>
<line x1="375.50" y1="3.00" x2="375.50" y2="183.30" stroke="#4a4a4a" stroke-width="1"/>
<line x1="375.00" y1="182.85" x2="685.00" y2="182.85" stroke="#444" stroke-width="1"/>
<text x="373.20" y="26.00" font-size="5.5" text-anchor="end" font-weight="normal" fill="#4d4d4d">2.0</text>
<text x="373.20" y="84.60" font-size="5.5" text-anchor="end" font-weight="normal" fill="#4d4d4d">1.5</text>
<text x="373.20" y="143.30" font-size="5.5" text-anchor="end" font-weight="normal" fill="#4d4d4d">1.0</text>
<text transform="translate(374.10 190.90) rotate(-45)" x="0" y="1.79" font-size="5.0" text-anchor="middle" fill="#333" stroke="#333" stroke-width="0.2">1992</text>
<text transform="translate(425.22 190.90) rotate(-45)" x="0" y="1.79" font-size="5.0" text-anchor="middle" fill="#333" stroke="#333" stroke-width="0.2">1997</text>
<text transform="translate(476.34 190.90) rotate(-45)" x="0" y="1.79" font-size="5.0" text-anchor="middle" fill="#333" stroke="#333" stroke-width="0.2">2002</text>
<text transform="translate(527.46 190.90) rotate(-45)" x="0" y="1.79" font-size="5.0" text-anchor="middle" fill="#333" stroke="#333" stroke-width="0.2">2007</text>
<text transform="translate(578.58 190.90) rotate(-45)" x="0" y="1.79" font-size="5.0" text-anchor="middle" fill="#333" stroke="#333" stroke-width="0.2">2012</text>
<text transform="translate(629.70 190.90) rotate(-45)" x="0" y="1.79" font-size="5.0" text-anchor="middle" fill="#333" stroke="#333" stroke-width="0.2">2017</text>
<text x="530.30" y="203.90" font-size="7" text-anchor="middle" font-weight="bold" fill="#000">Period</text>
<text x="362.10" y="92.50" font-size="7" text-anchor="middle" font-weight="bold" fill="#000" transform="rotate(-90 362.10 92.50)">Rate Ratio</text>
<text x="347.40" y="12.40" font-size="17.8" text-anchor="start" font-weight="bold" fill="#000">B</text>
<polyline points="43.20,316.10 57.89,312.60 72.58,311.30 87.27,311.30 101.96,308.90 116.65,317.00 131.34,323.80 146.03,328.60 160.72,335.80 175.41,341.80 190.10,348.40 204.79,353.90 219.48,358.00 234.17,361.20 248.86,364.50 263.55,367.60 278.24,370.30 292.93,373.30 307.62,374.50 322.31,375.80" fill="none" stroke="#FF8C00" stroke-width="0.8" stroke-linejoin="round"/>
<polyline points="43.20,353.60 57.89,352.00 72.58,349.30 87.27,347.60 101.96,345.80 116.65,343.60 131.34,342.30 146.03,342.60 160.72,345.20 175.41,346.60 190.10,348.40 204.79,352.50 219.48,354.90 234.17,357.20 248.86,359.00 263.55,362.30 278.24,364.30 292.93,365.30 307.62,366.50 322.31,368.20" fill="none" stroke="#00EEFF" stroke-width="0.8" stroke-linejoin="round"/>
<polyline points="43.20,352.30 57.89,351.20 72.58,348.90 87.27,348.00 101.96,346.00 116.65,343.10 131.34,341.80 146.03,341.80 160.72,344.10 175.41,346.00 190.10,348.40 204.79,350.30 219.48,352.50 234.17,353.20 248.86,356.80 263.55,358.60 278.24,359.80 292.93,363.10 307.62,364.80 322.31,368.20" fill="none" stroke="#7FFF00" stroke-width="0.8" stroke-linejoin="round"/>
<polyline points="43.20,257.50 57.89,258.50 72.58,261.90 87.27,264.00 101.96,273.30 116.65,287.60 131.34,302.10 146.03,314.00 160.72,327.70 175.41,338.30 190.10,348.40 204.79,355.60 219.48,363.00 234.17,368.00 248.86,369.40 263.55,372.80 278.24,375.50 292.93,377.90 307.62,379.20 322.31,380.60" fill="none" stroke="#9B30FF" stroke-width="0.8" stroke-linejoin="round"/>
<polyline points="43.20,251.40 57.89,250.30 72.58,253.50 87.27,256.60 101.96,252.00 116.65,276.00 131.34,297.50 146.03,309.60 160.72,325.20 175.41,337.00 190.10,348.40 204.79,355.90 219.48,363.60 234.17,368.80 248.86,371.70 263.55,374.20 278.24,376.70 292.93,379.20 307.62,380.10 322.31,381.30" fill="none" stroke="#8B7355" stroke-width="0.8" stroke-linejoin="round"/>
<polyline points="43.20,328.30 57.89,325.70 72.58,323.80 87.27,320.50 101.96,319.00 116.65,323.20 131.34,326.70 146.03,332.90 160.72,341.20 175.41,345.00 190.10,348.40 204.79,349.60 219.48,350.60 234.17,352.50 248.86,356.10 263.55,360.50 278.24,361.50 292.93,363.70 307.62,364.30 322.31,366.50" fill="none" stroke="#FFD700" stroke-width="0.8" stroke-linejoin="round"/>
<line x1="43.20" y1="304.10" x2="43.20" y2="320.90" stroke="#FF8C00" stroke-width="0.8"/>
<line x1="42.00" y1="304.10" x2="44.40" y2="304.10" stroke="#FF8C00" stroke-width="0.8"/>
<line x1="42.00" y1="326.30" x2="44.40" y2="326.30" stroke="#FF8C00" stroke-width="0.8"/>
<line x1="57.89" y1="308.40" x2="57.89" y2="316.70" stroke="#FF8C00" stroke-width="0.8"/>
<line x1="56.69" y1="308.40" x2="59.09" y2="308.40" stroke="#FF8C00" stroke-width="0.8"/>
<line x1="56.69" y1="316.70" x2="59.09" y2="316.70" stroke="#FF8C00" stroke-width="0.8"/>
<line x1="72.58" y1="309.30" x2="72.58" y2="313.30" stroke="#FF8C00" stroke-width="0.8"/>
<line x1="71.38" y1="309.30" x2="73.78" y2="309.30" stroke="#FF8C00" stroke-width="0.8"/>
<line x1="71.38" y1="313.30" x2="73.78" y2="313.30" stroke="#FF8C00" stroke-width="0.8"/>
<line x1="87.27" y1="309.30" x2="87.27" y2="313.30" stroke="#FF8C00" stroke-width="0.8"/>
<line x1="86.07" y1="309.30" x2="88.47" y2="309.30" stroke="#FF8C00" stroke-width="0.8"/>
<line x1="86.07" y1="313.30" x2="88.47" y2="313.30" stroke="#FF8C00" stroke-width="0.8"/>
<line x1="101.96" y1="307.40" x2="101.96" y2="310.40" stroke="#FF8C00" stroke-width="0.8"/>
<line x1="100.76" y1="307.40" x2="103.16" y2="307.40" stroke="#FF8C00" stroke-width="0.8"/>
<line x1="100.76" y1="310.40" x2="103.16" y2="310.40" stroke="#FF8C00" stroke-width="0.8"/>
<line x1="116.65" y1="315.70" x2="116.65" y2="318.30" stroke="#FF8C00" stroke-width="0.8"/>
<line x1="115.45" y1="315.70" x2="117.85" y2="315.70" stroke="#FF8C00" stroke-width="0.8"/>
<line x1="115.45" y1="318.30" x2="117.85" y2="318.30" stroke="#FF8C00" stroke-width="0.8"/>
<line x1="131.34" y1="322.60" x2="131.34" y2="325.00" stroke="#FF8C00" stroke-width="0.8"/>
<line x1="130.14" y1="322.60" x2="132.54" y2="322.60" stroke="#FF8C00" stroke-width="0.8"/>
<line x1="130.14" y1="325.00" x2="132.54" y2="325.00" stroke="#FF8C00" stroke-width="0.8"/>
<line x1="146.03" y1="327.60" x2="146.03" y2="329.60" stroke="#FF8C00" stroke-width="0.8"/>
<line x1="144.83" y1="327.60" x2="147.23" y2="327.60" stroke="#FF8C00" stroke-width="0.8"/>
<line x1="144.83" y1="329.60" x2="147.23" y2="329.60" stroke="#FF8C00" stroke-width="0.8"/>
<line x1="160.72" y1="334.80" x2="160.72" y2="336.80" stroke="#FF8C00" stroke-width="0.8"/>
<line x1="159.52" y1="334.80" x2="161.92" y2="334.80" stroke="#FF8C00" stroke-width="0.8"/>
<line x1="159.52" y1="336.80" x2="161.92" y2="336.80" stroke="#FF8C00" stroke-width="0.8"/>
<line x1="175.41" y1="341.00" x2="175.41" y2="342.60" stroke="#FF8C00" stroke-width="0.8"/>
<line x1="174.21" y1="341.00" x2="176.61" y2="341.00" stroke="#FF8C00" stroke-width="0.8"/>
<line x1="174.21" y1="342.60" x2="176.61" y2="342.60" stroke="#FF8C00" stroke-width="0.8"/>
<line x1="204.79" y1="353.70" x2="204.79" y2="354.70" stroke="#FF8C00" stroke-width="0.8"/>
<line x1="203.59" y1="353.10" x2="205.99" y2="353.10" stroke="#FF8C00" stroke-width="0.8"/>
<line x1="203.59" y1="354.70" x2="205.99" y2="354.70" stroke="#FF8C00" stroke-width="0.8"/>
<line x1="219.48" y1="357.00" x2="219.48" y2="359.00" stroke="#FF8C00" stroke-width="0.8"/>
<line x1="218.28" y1="357.00" x2="220.68" y2="357.00" stroke="#FF8C00" stroke-width="0.8"/>
<line x1="218.28" y1="359.00" x2="220.68" y2="359.00" stroke="#FF8C00" stroke-width="0.8"/>
<line x1="234.17" y1="360.20" x2="234.17" y2="362.20" stroke="#FF8C00" stroke-width="0.8"/>
<line x1="232.97" y1="360.20" x2="235.37" y2="360.20" stroke="#FF8C00" stroke-width="0.8"/>
<line x1="232.97" y1="362.20" x2="235.37" y2="362.20" stroke="#FF8C00" stroke-width="0.8"/>
<line x1="248.86" y1="363.30" x2="248.86" y2="365.70" stroke="#FF8C00" stroke-width="0.8"/>
<line x1="247.66" y1="363.30" x2="250.06" y2="363.30" stroke="#FF8C00" stroke-width="0.8"/>
<line x1="247.66" y1="365.70" x2="250.06" y2="365.70" stroke="#FF8C00" stroke-width="0.8"/>
<line x1="263.55" y1="366.20" x2="263.55" y2="369.00" stroke="#FF8C00" stroke-width="0.8"/>
<line x1="262.35" y1="366.20" x2="264.75" y2="366.20" stroke="#FF8C00" stroke-width="0.8"/>
<line x1="262.35" y1="369.00" x2="264.75" y2="369.00" stroke="#FF8C00" stroke-width="0.8"/>
<line x1="278.24" y1="368.70" x2="278.24" y2="371.90" stroke="#FF8C00" stroke-width="0.8"/>
<line x1="277.04" y1="368.70" x2="279.44" y2="368.70" stroke="#FF8C00" stroke-width="0.8"/>
<line x1="277.04" y1="371.90" x2="279.44" y2="371.90" stroke="#FF8C00" stroke-width="0.8"/>
<line x1="292.93" y1="371.50" x2="292.93" y2="375.10" stroke="#FF8C00" stroke-width="0.8"/>
<line x1="291.73" y1="371.50" x2="294.13" y2="371.50" stroke="#FF8C00" stroke-width="0.8"/>
<line x1="291.73" y1="375.10" x2="294.13" y2="375.10" stroke="#FF8C00" stroke-width="0.8"/>
<line x1="307.62" y1="376.00" x2="307.62" y2="376.50" stroke="#FF8C00" stroke-width="0.8"/>
<line x1="306.42" y1="372.50" x2="308.82" y2="372.50" stroke="#FF8C00" stroke-width="0.8"/>
<line x1="306.42" y1="376.50" x2="308.82" y2="376.50" stroke="#FF8C00" stroke-width="0.8"/>
<line x1="321.11" y1="373.40" x2="323.51" y2="373.40" stroke="#FF8C00" stroke-width="0.8"/>
<line x1="321.11" y1="378.20" x2="323.51" y2="378.20" stroke="#FF8C00" stroke-width="0.8"/>
<line x1="43.20" y1="364.40" x2="43.20" y2="366.30" stroke="#00EEFF" stroke-width="0.8"/>
<line x1="42.00" y1="331.50" x2="44.40" y2="331.50" stroke="#00EEFF" stroke-width="0.8"/>
<line x1="42.00" y1="366.30" x2="44.40" y2="366.30" stroke="#00EEFF" stroke-width="0.8"/>
<line x1="57.89" y1="342.20" x2="57.89" y2="344.10" stroke="#00EEFF" stroke-width="0.8"/>
<line x1="56.69" y1="342.20" x2="59.09" y2="342.20" stroke="#00EEFF" stroke-width="0.8"/>
<line x1="56.69" y1="356.70" x2="59.09" y2="356.70" stroke="#00EEFF" stroke-width="0.8"/>
<line x1="72.58" y1="343.00" x2="72.58" y2="345.50" stroke="#00EEFF" stroke-width="0.8"/>
<line x1="71.38" y1="343.00" x2="73.78" y2="343.00" stroke="#00EEFF" stroke-width="0.8"/>
<line x1="71.38" y1="351.80" x2="73.78" y2="351.80" stroke="#00EEFF" stroke-width="0.8"/>
<line x1="87.27" y1="344.70" x2="87.27" y2="345.70" stroke="#00EEFF" stroke-width="0.8"/>
<line x1="86.07" y1="344.70" x2="88.47" y2="344.70" stroke="#00EEFF" stroke-width="0.8"/>
<line x1="86.07" y1="350.30" x2="88.47" y2="350.30" stroke="#00EEFF" stroke-width="0.8"/>
<line x1="101.96" y1="343.20" x2="101.96" y2="343.70" stroke="#00EEFF" stroke-width="0.8"/>
<line x1="100.76" y1="343.20" x2="103.16" y2="343.20" stroke="#00EEFF" stroke-width="0.8"/>
<line x1="100.76" y1="348.30" x2="103.16" y2="348.30" stroke="#00EEFF" stroke-width="0.8"/>
<line x1="115.45" y1="341.60" x2="117.85" y2="341.60" stroke="#00EEFF" stroke-width="0.8"/>
<line x1="115.45" y1="345.60" x2="117.85" y2="345.60" stroke="#00EEFF" stroke-width="0.8"/>
<line x1="130.14" y1="340.70" x2="132.54" y2="340.70" stroke="#00EEFF" stroke-width="0.8"/>
<line x1="130.14" y1="343.90" x2="132.54" y2="343.90" stroke="#00EEFF" stroke-width="0.8"/>
<line x1="146.03" y1="343.40" x2="146.03" y2="344.00" stroke="#00EEFF" stroke-width="0.8"/>
<line x1="144.83" y1="341.20" x2="147.23" y2="341.20" stroke="#00EEFF" stroke-width="0.8"/>
<line x1="144.83" y1="344.00" x2="147.23" y2="344.00" stroke="#00EEFF" stroke-width="0.8"/>
<line x1="160.72" y1="345.50" x2="160.72" y2="346.40" stroke="#00EEFF" stroke-width="0.8"/>
<line x1="159.52" y1="344.00" x2="161.92" y2="344.00" stroke="#00EEFF" stroke-width="0.8"/>
<line x1="159.52" y1="346.40" x2="161.92" y2="346.40" stroke="#00EEFF" stroke-width="0.8"/>
<line x1="175.41" y1="347.00" x2="175.41" y2="347.60" stroke="#00EEFF" stroke-width="0.8"/>
<line x1="174.21" y1="345.60" x2="176.61" y2="345.60" stroke="#00EEFF" stroke-width="0.8"/>
<line x1="174.21" y1="347.60" x2="176.61" y2="347.60" stroke="#00EEFF" stroke-width="0.8"/>
<line x1="204.79" y1="352.50" x2="204.79" y2="353.70" stroke="#00EEFF" stroke-width="0.8"/>
<line x1="203.59" y1="351.30" x2="205.99" y2="351.30" stroke="#00EEFF" stroke-width="0.8"/>
<line x1="203.59" y1="353.70" x2="205.99" y2="353.70" stroke="#00EEFF" stroke-width="0.8"/>
<line x1="219.48" y1="354.70" x2="219.48" y2="356.50" stroke="#00EEFF" stroke-width="0.8"/>
<line x1="218.28" y1="353.30" x2="220.68" y2="353.30" stroke="#00EEFF" stroke-width="0.8"/>
<line x1="218.28" y1="356.50" x2="220.68" y2="356.50" stroke="#00EEFF" stroke-width="0.8"/>
<line x1="234.17" y1="356.20" x2="234.17" y2="359.20" stroke="#00EEFF" stroke-width="0.8"/>
<line x1="232.97" y1="355.20" x2="235.37" y2="355.20" stroke="#00EEFF" stroke-width="0.8"/>
<line x1="232.97" y1="359.20" x2="235.37" y2="359.20" stroke="#00EEFF" stroke-width="0.8"/>
<line x1="248.86" y1="360.80" x2="248.86" y2="361.60" stroke="#00EEFF" stroke-width="0.8"/>
<line x1="247.66" y1="356.40" x2="250.06" y2="356.40" stroke="#00EEFF" stroke-width="0.8"/>
<line x1="247.66" y1="361.60" x2="250.06" y2="361.60" stroke="#00EEFF" stroke-width="0.8"/>
<line x1="263.55" y1="363.50" x2="263.55" y2="365.50" stroke="#00EEFF" stroke-width="0.8"/>
<line x1="262.35" y1="359.10" x2="264.75" y2="359.10" stroke="#00EEFF" stroke-width="0.8"/>
<line x1="262.35" y1="365.50" x2="264.75" y2="365.50" stroke="#00EEFF" stroke-width="0.8"/>
<line x1="278.24" y1="366.10" x2="278.24" y2="368.30" stroke="#00EEFF" stroke-width="0.8"/>
<line x1="277.04" y1="360.30" x2="279.44" y2="360.30" stroke="#00EEFF" stroke-width="0.8"/>
<line x1="277.04" y1="368.30" x2="279.44" y2="368.30" stroke="#00EEFF" stroke-width="0.8"/>
<line x1="291.73" y1="360.30" x2="294.13" y2="360.30" stroke="#00EEFF" stroke-width="0.8"/>
<line x1="291.73" y1="370.30" x2="294.13" y2="370.30" stroke="#00EEFF" stroke-width="0.8"/>
<line x1="306.42" y1="360.50" x2="308.82" y2="360.50" stroke="#00EEFF" stroke-width="0.8"/>
<line x1="306.42" y1="372.50" x2="308.82" y2="372.50" stroke="#00EEFF" stroke-width="0.8"/>
<line x1="321.11" y1="352.10" x2="323.51" y2="352.10" stroke="#00EEFF" stroke-width="0.8"/>
<line x1="321.11" y1="378.00" x2="323.51" y2="378.00" stroke="#00EEFF" stroke-width="0.8"/>
<line x1="43.20" y1="334.80" x2="43.20" y2="364.40" stroke="#7FFF00" stroke-width="0.8"/>
<line x1="42.00" y1="334.40" x2="44.40" y2="334.40" stroke="#7FFF00" stroke-width="0.8"/>
<line x1="42.00" y1="364.40" x2="44.40" y2="364.40" stroke="#7FFF00" stroke-width="0.8"/>
<line x1="57.89" y1="344.10" x2="57.89" y2="357.60" stroke="#7FFF00" stroke-width="0.8"/>
<line x1="56.69" y1="344.10" x2="59.09" y2="344.10" stroke="#7FFF00" stroke-width="0.8"/>
<line x1="56.69" y1="357.60" x2="59.09" y2="357.60" stroke="#7FFF00" stroke-width="0.8"/>
<line x1="72.58" y1="345.50" x2="72.58" y2="352.40" stroke="#7FFF00" stroke-width="0.8"/>
<line x1="71.38" y1="345.50" x2="73.78" y2="345.50" stroke="#7FFF00" stroke-width="0.8"/>
<line x1="71.38" y1="352.40" x2="73.78" y2="352.40" stroke="#7FFF00" stroke-width="0.8"/>
<line x1="87.27" y1="345.70" x2="87.27" y2="350.30" stroke="#7FFF00" stroke-width="0.8"/>
<line x1="86.07" y1="345.70" x2="88.47" y2="345.70" stroke="#7FFF00" stroke-width="0.8"/>
<line x1="86.07" y1="350.30" x2="88.47" y2="350.30" stroke="#7FFF00" stroke-width="0.8"/>
<line x1="101.96" y1="343.70" x2="101.96" y2="348.30" stroke="#7FFF00" stroke-width="0.8"/>
<line x1="100.76" y1="343.70" x2="103.16" y2="343.70" stroke="#7FFF00" stroke-width="0.8"/>
<line x1="100.76" y1="348.30" x2="103.16" y2="348.30" stroke="#7FFF00" stroke-width="0.8"/>
<line x1="116.65" y1="340.70" x2="116.65" y2="345.50" stroke="#7FFF00" stroke-width="0.8"/>
<line x1="115.45" y1="340.70" x2="117.85" y2="340.70" stroke="#7FFF00" stroke-width="0.8"/>
<line x1="115.45" y1="345.50" x2="117.85" y2="345.50" stroke="#7FFF00" stroke-width="0.8"/>
<line x1="131.34" y1="339.80" x2="131.34" y2="343.80" stroke="#7FFF00" stroke-width="0.8"/>
<line x1="130.14" y1="339.80" x2="132.54" y2="339.80" stroke="#7FFF00" stroke-width="0.8"/>
<line x1="130.14" y1="343.80" x2="132.54" y2="343.80" stroke="#7FFF00" stroke-width="0.8"/>
<line x1="146.03" y1="340.20" x2="146.03" y2="343.40" stroke="#7FFF00" stroke-width="0.8"/>
<line x1="144.83" y1="340.20" x2="147.23" y2="340.20" stroke="#7FFF00" stroke-width="0.8"/>
<line x1="144.83" y1="343.40" x2="147.23" y2="343.40" stroke="#7FFF00" stroke-width="0.8"/>
<line x1="160.72" y1="342.70" x2="160.72" y2="345.50" stroke="#7FFF00" stroke-width="0.8"/>
<line x1="159.52" y1="342.70" x2="161.92" y2="342.70" stroke="#7FFF00" stroke-width="0.8"/>
<line x1="159.52" y1="345.50" x2="161.92" y2="345.50" stroke="#7FFF00" stroke-width="0.8"/>
<line x1="175.41" y1="345.80" x2="175.41" y2="347.00" stroke="#7FFF00" stroke-width="0.8"/>
<line x1="174.21" y1="345.00" x2="176.61" y2="345.00" stroke="#7FFF00" stroke-width="0.8"/>
<line x1="174.21" y1="347.00" x2="176.61" y2="347.00" stroke="#7FFF00" stroke-width="0.8"/>
<line x1="204.79" y1="348.10" x2="204.79" y2="348.70" stroke="#7FFF00" stroke-width="0.8"/>
<line x1="204.79" y1="350.50" x2="204.79" y2="352.50" stroke="#7FFF00" stroke-width="0.8"/>
<line x1="203.59" y1="348.10" x2="205.99" y2="348.10" stroke="#7FFF00" stroke-width="0.8"/>
<line x1="203.59" y1="352.50" x2="205.99" y2="352.50" stroke="#7FFF00" stroke-width="0.8"/>
<line x1="219.48" y1="351.80" x2="219.48" y2="354.70" stroke="#7FFF00" stroke-width="0.8"/>
<line x1="218.28" y1="350.30" x2="220.68" y2="350.30" stroke="#7FFF00" stroke-width="0.8"/>
<line x1="218.28" y1="354.70" x2="220.68" y2="354.70" stroke="#7FFF00" stroke-width="0.8"/>
<line x1="234.17" y1="350.20" x2="234.17" y2="351.00" stroke="#7FFF00" stroke-width="0.8"/>
<line x1="234.17" y1="354.00" x2="234.17" y2="356.20" stroke="#7FFF00" stroke-width="0.8"/>
<line x1="232.97" y1="350.20" x2="235.37" y2="350.20" stroke="#7FFF00" stroke-width="0.8"/>
<line x1="232.97" y1="356.20" x2="235.37" y2="356.20" stroke="#7FFF00" stroke-width="0.8"/>
<line x1="248.86" y1="352.80" x2="248.86" y2="354.10" stroke="#7FFF00" stroke-width="0.8"/>
<line x1="248.86" y1="358.10" x2="248.86" y2="360.80" stroke="#7FFF00" stroke-width="0.8"/>
<line x1="247.66" y1="352.80" x2="250.06" y2="352.80" stroke="#7FFF00" stroke-width="0.8"/>
<line x1="247.66" y1="360.80" x2="250.06" y2="360.80" stroke="#7FFF00" stroke-width="0.8"/>
<line x1="263.55" y1="353.80" x2="263.55" y2="357.50" stroke="#7FFF00" stroke-width="0.8"/>
<line x1="262.35" y1="353.80" x2="264.75" y2="353.80" stroke="#7FFF00" stroke-width="0.8"/>
<line x1="262.35" y1="363.40" x2="264.75" y2="363.40" stroke="#7FFF00" stroke-width="0.8"/>
<line x1="278.24" y1="353.50" x2="278.24" y2="357.50" stroke="#7FFF00" stroke-width="0.8"/>
<line x1="278.24" y1="365.50" x2="278.24" y2="366.10" stroke="#7FFF00" stroke-width="0.8"/>
<line x1="277.04" y1="353.50" x2="279.44" y2="353.50" stroke="#7FFF00" stroke-width="0.8"/>
<line x1="277.04" y1="366.10" x2="279.44" y2="366.10" stroke="#7FFF00" stroke-width="0.8"/>
<line x1="292.93" y1="354.30" x2="292.93" y2="358.20" stroke="#7FFF00" stroke-width="0.8"/>
<line x1="292.93" y1="369.20" x2="292.93" y2="371.00" stroke="#7FFF00" stroke-width="0.8"/>
<line x1="291.73" y1="354.30" x2="294.13" y2="354.30" stroke="#7FFF00" stroke-width="0.8"/>
<line x1="291.73" y1="371.00" x2="294.13" y2="371.00" stroke="#7FFF00" stroke-width="0.8"/>
<line x1="307.62" y1="374.10" x2="307.62" y2="376.00" stroke="#7FFF00" stroke-width="0.8"/>
<line x1="306.42" y1="352.00" x2="308.82" y2="352.00" stroke="#7FFF00" stroke-width="0.8"/>
<line x1="306.42" y1="376.00" x2="308.82" y2="376.00" stroke="#7FFF00" stroke-width="0.8"/>
<line x1="322.31" y1="343.90" x2="322.31" y2="345.20" stroke="#7FFF00" stroke-width="0.8"/>
<line x1="321.11" y1="343.90" x2="323.51" y2="343.90" stroke="#7FFF00" stroke-width="0.8"/>
<line x1="321.11" y1="382.00" x2="323.51" y2="382.00" stroke="#7FFF00" stroke-width="0.8"/>
<line x1="42.00" y1="234.30" x2="44.40" y2="234.30" stroke="#9B30FF" stroke-width="0.8"/>
<line x1="42.00" y1="277.20" x2="44.40" y2="277.20" stroke="#9B30FF" stroke-width="0.8"/>
<line x1="57.89" y1="259.00" x2="57.89" y2="265.40" stroke="#9B30FF" stroke-width="0.8"/>
<line x1="56.69" y1="250.40" x2="59.09" y2="250.40" stroke="#9B30FF" stroke-width="0.8"/>
<line x1="56.69" y1="265.40" x2="59.09" y2="265.40" stroke="#9B30FF" stroke-width="0.8"/>
<line x1="72.58" y1="259.00" x2="72.58" y2="265.90" stroke="#9B30FF" stroke-width="0.8"/>
<line x1="71.38" y1="258.50" x2="73.78" y2="258.50" stroke="#9B30FF" stroke-width="0.8"/>
<line x1="71.38" y1="265.90" x2="73.78" y2="265.90" stroke="#9B30FF" stroke-width="0.8"/>
<line x1="87.27" y1="261.00" x2="87.27" y2="266.90" stroke="#9B30FF" stroke-width="0.8"/>
<line x1="86.07" y1="261.00" x2="88.47" y2="261.00" stroke="#9B30FF" stroke-width="0.8"/>
<line x1="86.07" y1="266.90" x2="88.47" y2="266.90" stroke="#9B30FF" stroke-width="0.8"/>
<line x1="101.96" y1="271.30" x2="101.96" y2="275.30" stroke="#9B30FF" stroke-width="0.8"/>
<line x1="100.76" y1="271.30" x2="103.16" y2="271.30" stroke="#9B30FF" stroke-width="0.8"/>
<line x1="100.76" y1="275.30" x2="103.16" y2="275.30" stroke="#9B30FF" stroke-width="0.8"/>
<line x1="116.65" y1="286.10" x2="116.65" y2="289.10" stroke="#9B30FF" stroke-width="0.8"/>
<line x1="115.45" y1="286.10" x2="117.85" y2="286.10" stroke="#9B30FF" stroke-width="0.8"/>
<line x1="115.45" y1="289.10" x2="117.85" y2="289.10" stroke="#9B30FF" stroke-width="0.8"/>
<line x1="131.34" y1="300.80" x2="131.34" y2="303.40" stroke="#9B30FF" stroke-width="0.8"/>
<line x1="130.14" y1="300.80" x2="132.54" y2="300.80" stroke="#9B30FF" stroke-width="0.8"/>
<line x1="130.14" y1="303.40" x2="132.54" y2="303.40" stroke="#9B30FF" stroke-width="0.8"/>
<line x1="146.03" y1="313.00" x2="146.03" y2="315.20" stroke="#9B30FF" stroke-width="0.8"/>
<line x1="144.83" y1="313.00" x2="147.23" y2="313.00" stroke="#9B30FF" stroke-width="0.8"/>
<line x1="144.83" y1="315.20" x2="147.23" y2="315.20" stroke="#9B30FF" stroke-width="0.8"/>
<line x1="160.72" y1="326.80" x2="160.72" y2="328.60" stroke="#9B30FF" stroke-width="0.8"/>
<line x1="159.52" y1="326.80" x2="161.92" y2="326.80" stroke="#9B30FF" stroke-width="0.8"/>
<line x1="159.52" y1="328.60" x2="161.92" y2="328.60" stroke="#9B30FF" stroke-width="0.8"/>
<line x1="175.41" y1="338.00" x2="175.41" y2="339.00" stroke="#9B30FF" stroke-width="0.8"/>
<line x1="174.21" y1="337.60" x2="176.61" y2="337.60" stroke="#9B30FF" stroke-width="0.8"/>
<line x1="174.21" y1="339.00" x2="176.61" y2="339.00" stroke="#9B30FF" stroke-width="0.8"/>
<line x1="203.59" y1="354.90" x2="205.99" y2="354.90" stroke="#9B30FF" stroke-width="0.8"/>
<line x1="203.59" y1="356.30" x2="205.99" y2="356.30" stroke="#9B30FF" stroke-width="0.8"/>
<line x1="219.48" y1="362.20" x2="219.48" y2="362.80" stroke="#9B30FF" stroke-width="0.8"/>
<line x1="218.28" y1="362.20" x2="220.68" y2="362.20" stroke="#9B30FF" stroke-width="0.8"/>
<line x1="218.28" y1="363.80" x2="220.68" y2="363.80" stroke="#9B30FF" stroke-width="0.8"/>
<line x1="234.17" y1="367.20" x2="234.17" y2="368.00" stroke="#9B30FF" stroke-width="0.8"/>
<line x1="232.97" y1="367.20" x2="235.37" y2="367.20" stroke="#9B30FF" stroke-width="0.8"/>
<line x1="232.97" y1="368.80" x2="235.37" y2="368.80" stroke="#9B30FF" stroke-width="0.8"/>
<line x1="248.86" y1="368.40" x2="248.86" y2="370.40" stroke="#9B30FF" stroke-width="0.8"/>
<line x1="247.66" y1="368.40" x2="250.06" y2="368.40" stroke="#9B30FF" stroke-width="0.8"/>
<line x1="247.66" y1="370.40" x2="250.06" y2="370.40" stroke="#9B30FF" stroke-width="0.8"/>
<line x1="263.55" y1="371.80" x2="263.55" y2="373.20" stroke="#9B30FF" stroke-width="0.8"/>
<line x1="262.35" y1="371.80" x2="264.75" y2="371.80" stroke="#9B30FF" stroke-width="0.8"/>
<line x1="262.35" y1="373.80" x2="264.75" y2="373.80" stroke="#9B30FF" stroke-width="0.8"/>
<line x1="278.24" y1="374.30" x2="278.24" y2="375.50" stroke="#9B30FF" stroke-width="0.8"/>
<line x1="277.04" y1="374.30" x2="279.44" y2="374.30" stroke="#9B30FF" stroke-width="0.8"/>
<line x1="277.04" y1="376.70" x2="279.44" y2="376.70" stroke="#9B30FF" stroke-width="0.8"/>
<line x1="292.93" y1="376.70" x2="292.93" y2="378.00" stroke="#9B30FF" stroke-width="0.8"/>
<line x1="291.73" y1="376.70" x2="294.13" y2="376.70" stroke="#9B30FF" stroke-width="0.8"/>
<line x1="291.73" y1="379.10" x2="294.13" y2="379.10" stroke="#9B30FF" stroke-width="0.8"/>
<line x1="307.62" y1="377.90" x2="307.62" y2="378.80" stroke="#9B30FF" stroke-width="0.8"/>
<line x1="306.42" y1="377.90" x2="308.82" y2="377.90" stroke="#9B30FF" stroke-width="0.8"/>
<line x1="306.42" y1="380.50" x2="308.82" y2="380.50" stroke="#9B30FF" stroke-width="0.8"/>
<line x1="322.31" y1="379.50" x2="322.31" y2="379.90" stroke="#9B30FF" stroke-width="0.8"/>
<line x1="321.11" y1="379.20" x2="323.51" y2="379.20" stroke="#9B30FF" stroke-width="0.8"/>
<line x1="321.11" y1="382.00" x2="323.51" y2="382.00" stroke="#9B30FF" stroke-width="0.8"/>
<line x1="43.20" y1="219.10" x2="43.20" y2="278.00" stroke="#8B7355" stroke-width="0.8"/>
<line x1="42.00" y1="219.10" x2="44.40" y2="219.10" stroke="#8B7355" stroke-width="0.8"/>
<line x1="42.00" y1="278.00" x2="44.40" y2="278.00" stroke="#8B7355" stroke-width="0.8"/>
<line x1="57.89" y1="239.70" x2="57.89" y2="259.00" stroke="#8B7355" stroke-width="0.8"/>
<line x1="56.69" y1="239.70" x2="59.09" y2="239.70" stroke="#8B7355" stroke-width="0.8"/>
<line x1="56.69" y1="259.00" x2="59.09" y2="259.00" stroke="#8B7355" stroke-width="0.8"/>
<line x1="72.58" y1="248.20" x2="72.58" y2="259.00" stroke="#8B7355" stroke-width="0.8"/>
<line x1="71.38" y1="248.20" x2="73.78" y2="248.20" stroke="#8B7355" stroke-width="0.8"/>
<line x1="71.38" y1="259.00" x2="73.78" y2="259.00" stroke="#8B7355" stroke-width="0.8"/>
<line x1="87.27" y1="252.80" x2="87.27" y2="259.40" stroke="#8B7355" stroke-width="0.8"/>
<line x1="86.07" y1="252.80" x2="88.47" y2="252.80" stroke="#8B7355" stroke-width="0.8"/>
<line x1="86.07" y1="259.40" x2="88.47" y2="259.40" stroke="#8B7355" stroke-width="0.8"/>
<line x1="101.96" y1="247.60" x2="101.96" y2="255.60" stroke="#8B7355" stroke-width="0.8"/>
<line x1="100.76" y1="247.60" x2="103.16" y2="247.60" stroke="#8B7355" stroke-width="0.8"/>
<line x1="100.76" y1="255.60" x2="103.16" y2="255.60" stroke="#8B7355" stroke-width="0.8"/>
<line x1="116.65" y1="273.00" x2="116.65" y2="279.00" stroke="#8B7355" stroke-width="0.8"/>
<line x1="115.45" y1="273.00" x2="117.85" y2="273.00" stroke="#8B7355" stroke-width="0.8"/>
<line x1="115.45" y1="279.00" x2="117.85" y2="279.00" stroke="#8B7355" stroke-width="0.8"/>
<line x1="131.34" y1="295.70" x2="131.34" y2="299.30" stroke="#8B7355" stroke-width="0.8"/>
<line x1="130.14" y1="295.70" x2="132.54" y2="295.70" stroke="#8B7355" stroke-width="0.8"/>
<line x1="130.14" y1="299.30" x2="132.54" y2="299.30" stroke="#8B7355" stroke-width="0.8"/>
<line x1="146.03" y1="308.00" x2="146.03" y2="311.20" stroke="#8B7355" stroke-width="0.8"/>
<line x1="144.83" y1="308.00" x2="147.23" y2="308.00" stroke="#8B7355" stroke-width="0.8"/>
<line x1="144.83" y1="311.20" x2="147.23" y2="311.20" stroke="#8B7355" stroke-width="0.8"/>
<line x1="160.72" y1="324.00" x2="160.72" y2="326.40" stroke="#8B7355" stroke-width="0.8"/>
<line x1="159.52" y1="324.00" x2="161.92" y2="324.00" stroke="#8B7355" stroke-width="0.8"/>
<line x1="159.52" y1="326.40" x2="161.92" y2="326.40" stroke="#8B7355" stroke-width="0.8"/>
<line x1="175.41" y1="336.00" x2="175.41" y2="338.00" stroke="#8B7355" stroke-width="0.8"/>
<line x1="174.21" y1="336.00" x2="176.61" y2="336.00" stroke="#8B7355" stroke-width="0.8"/>
<line x1="174.21" y1="338.00" x2="176.61" y2="338.00" stroke="#8B7355" stroke-width="0.8"/>
<line x1="204.79" y1="355.10" x2="204.79" y2="356.70" stroke="#8B7355" stroke-width="0.8"/>
<line x1="203.59" y1="355.10" x2="205.99" y2="355.10" stroke="#8B7355" stroke-width="0.8"/>
<line x1="203.59" y1="356.70" x2="205.99" y2="356.70" stroke="#8B7355" stroke-width="0.8"/>
<line x1="219.48" y1="362.80" x2="219.48" y2="364.40" stroke="#8B7355" stroke-width="0.8"/>
<line x1="218.28" y1="362.80" x2="220.68" y2="362.80" stroke="#8B7355" stroke-width="0.8"/>
<line x1="218.28" y1="364.40" x2="220.68" y2="364.40" stroke="#8B7355" stroke-width="0.8"/>
<line x1="234.17" y1="368.00" x2="234.17" y2="369.60" stroke="#8B7355" stroke-width="0.8"/>
<line x1="232.97" y1="368.00" x2="235.37" y2="368.00" stroke="#8B7355" stroke-width="0.8"/>
<line x1="232.97" y1="369.60" x2="235.37" y2="369.60" stroke="#8B7355" stroke-width="0.8"/>
<line x1="248.86" y1="370.70" x2="248.86" y2="372.70" stroke="#8B7355" stroke-width="0.8"/>
<line x1="247.66" y1="370.70" x2="250.06" y2="370.70" stroke="#8B7355" stroke-width="0.8"/>
<line x1="247.66" y1="372.70" x2="250.06" y2="372.70" stroke="#8B7355" stroke-width="0.8"/>
<line x1="263.55" y1="373.20" x2="263.55" y2="375.20" stroke="#8B7355" stroke-width="0.8"/>
<line x1="262.35" y1="373.20" x2="264.75" y2="373.20" stroke="#8B7355" stroke-width="0.8"/>
<line x1="262.35" y1="375.20" x2="264.75" y2="375.20" stroke="#8B7355" stroke-width="0.8"/>
<line x1="278.24" y1="375.50" x2="278.24" y2="377.90" stroke="#8B7355" stroke-width="0.8"/>
<line x1="277.04" y1="375.50" x2="279.44" y2="375.50" stroke="#8B7355" stroke-width="0.8"/>
<line x1="277.04" y1="377.90" x2="279.44" y2="377.90" stroke="#8B7355" stroke-width="0.8"/>
<line x1="292.93" y1="378.00" x2="292.93" y2="380.40" stroke="#8B7355" stroke-width="0.8"/>
<line x1="291.73" y1="378.00" x2="294.13" y2="378.00" stroke="#8B7355" stroke-width="0.8"/>
<line x1="291.73" y1="380.40" x2="294.13" y2="380.40" stroke="#8B7355" stroke-width="0.8"/>
<line x1="307.62" y1="378.80" x2="307.62" y2="381.40" stroke="#8B7355" stroke-width="0.8"/>
<line x1="306.42" y1="378.80" x2="308.82" y2="378.80" stroke="#8B7355" stroke-width="0.8"/>
<line x1="306.42" y1="381.40" x2="308.82" y2="381.40" stroke="#8B7355" stroke-width="0.8"/>
<line x1="322.31" y1="379.90" x2="322.31" y2="382.70" stroke="#8B7355" stroke-width="0.8"/>
<line x1="321.11" y1="379.90" x2="323.51" y2="379.90" stroke="#8B7355" stroke-width="0.8"/>
<line x1="321.11" y1="382.70" x2="323.51" y2="382.70" stroke="#8B7355" stroke-width="0.8"/>
<line x1="43.20" y1="320.90" x2="43.20" y2="334.80" stroke="#FFD700" stroke-width="0.8"/>
<line x1="42.00" y1="320.90" x2="44.40" y2="320.90" stroke="#FFD700" stroke-width="0.8"/>
<line x1="42.00" y1="334.80" x2="44.40" y2="334.80" stroke="#FFD700" stroke-width="0.8"/>
<line x1="57.89" y1="322.50" x2="57.89" y2="329.20" stroke="#FFD700" stroke-width="0.8"/>
<line x1="56.69" y1="322.50" x2="59.09" y2="322.50" stroke="#FFD700" stroke-width="0.8"/>
<line x1="56.69" y1="329.20" x2="59.09" y2="329.20" stroke="#FFD700" stroke-width="0.8"/>
<line x1="72.58" y1="321.80" x2="72.58" y2="325.80" stroke="#FFD700" stroke-width="0.8"/>
<line x1="71.38" y1="321.80" x2="73.78" y2="321.80" stroke="#FFD700" stroke-width="0.8"/>
<line x1="71.38" y1="325.80" x2="73.78" y2="325.80" stroke="#FFD700" stroke-width="0.8"/>
<line x1="87.27" y1="318.50" x2="87.27" y2="322.50" stroke="#FFD700" stroke-width="0.8"/>
<line x1="86.07" y1="318.50" x2="88.47" y2="318.50" stroke="#FFD700" stroke-width="0.8"/>
<line x1="86.07" y1="322.50" x2="88.47" y2="322.50" stroke="#FFD700" stroke-width="0.8"/>
<line x1="101.96" y1="317.50" x2="101.96" y2="320.50" stroke="#FFD700" stroke-width="0.8"/>
<line x1="100.76" y1="317.50" x2="103.16" y2="317.50" stroke="#FFD700" stroke-width="0.8"/>
<line x1="100.76" y1="320.50" x2="103.16" y2="320.50" stroke="#FFD700" stroke-width="0.8"/>
<line x1="116.65" y1="321.90" x2="116.65" y2="324.50" stroke="#FFD700" stroke-width="0.8"/>
<line x1="115.45" y1="321.90" x2="117.85" y2="321.90" stroke="#FFD700" stroke-width="0.8"/>
<line x1="115.45" y1="324.50" x2="117.85" y2="324.50" stroke="#FFD700" stroke-width="0.8"/>
<line x1="131.34" y1="325.50" x2="131.34" y2="327.90" stroke="#FFD700" stroke-width="0.8"/>
<line x1="130.14" y1="325.50" x2="132.54" y2="325.50" stroke="#FFD700" stroke-width="0.8"/>
<line x1="130.14" y1="327.90" x2="132.54" y2="327.90" stroke="#FFD700" stroke-width="0.8"/>
<line x1="146.03" y1="331.90" x2="146.03" y2="333.90" stroke="#FFD700" stroke-width="0.8"/>
<line x1="144.83" y1="331.90" x2="147.23" y2="331.90" stroke="#FFD700" stroke-width="0.8"/>
<line x1="144.83" y1="333.90" x2="147.23" y2="333.90" stroke="#FFD700" stroke-width="0.8"/>
<line x1="160.72" y1="340.20" x2="160.72" y2="342.20" stroke="#FFD700" stroke-width="0.8"/>
<line x1="159.52" y1="340.20" x2="161.92" y2="340.20" stroke="#FFD700" stroke-width="0.8"/>
<line x1="159.52" y1="342.20" x2="161.92" y2="342.20" stroke="#FFD700" stroke-width="0.8"/>
<line x1="175.41" y1="344.20" x2="175.41" y2="345.80" stroke="#FFD700" stroke-width="0.8"/>
<line x1="174.21" y1="344.20" x2="176.61" y2="344.20" stroke="#FFD700" stroke-width="0.8"/>
<line x1="174.21" y1="345.80" x2="176.61" y2="345.80" stroke="#FFD700" stroke-width="0.8"/>
<line x1="204.79" y1="348.70" x2="204.79" y2="350.50" stroke="#FFD700" stroke-width="0.8"/>
<line x1="203.59" y1="348.70" x2="205.99" y2="348.70" stroke="#FFD700" stroke-width="0.8"/>
<line x1="203.59" y1="350.50" x2="205.99" y2="350.50" stroke="#FFD700" stroke-width="0.8"/>
<line x1="219.48" y1="349.40" x2="219.48" y2="351.80" stroke="#FFD700" stroke-width="0.8"/>
<line x1="218.28" y1="349.40" x2="220.68" y2="349.40" stroke="#FFD700" stroke-width="0.8"/>
<line x1="218.28" y1="351.80" x2="220.68" y2="351.80" stroke="#FFD700" stroke-width="0.8"/>
<line x1="234.17" y1="351.00" x2="234.17" y2="354.00" stroke="#FFD700" stroke-width="0.8"/>
<line x1="232.97" y1="351.00" x2="235.37" y2="351.00" stroke="#FFD700" stroke-width="0.8"/>
<line x1="232.97" y1="354.00" x2="235.37" y2="354.00" stroke="#FFD700" stroke-width="0.8"/>
<line x1="248.86" y1="354.10" x2="248.86" y2="358.10" stroke="#FFD700" stroke-width="0.8"/>
<line x1="247.66" y1="354.10" x2="250.06" y2="354.10" stroke="#FFD700" stroke-width="0.8"/>
<line x1="247.66" y1="358.10" x2="250.06" y2="358.10" stroke="#FFD700" stroke-width="0.8"/>
<line x1="263.55" y1="357.50" x2="263.55" y2="363.50" stroke="#FFD700" stroke-width="0.8"/>
<line x1="262.35" y1="357.50" x2="264.75" y2="357.50" stroke="#FFD700" stroke-width="0.8"/>
<line x1="262.35" y1="363.50" x2="264.75" y2="363.50" stroke="#FFD700" stroke-width="0.8"/>
<line x1="278.24" y1="357.50" x2="278.24" y2="365.50" stroke="#FFD700" stroke-width="0.8"/>
<line x1="277.04" y1="357.50" x2="279.44" y2="357.50" stroke="#FFD700" stroke-width="0.8"/>
<line x1="277.04" y1="365.50" x2="279.44" y2="365.50" stroke="#FFD700" stroke-width="0.8"/>
<line x1="292.93" y1="358.20" x2="292.93" y2="369.20" stroke="#FFD700" stroke-width="0.8"/>
<line x1="291.73" y1="358.20" x2="294.13" y2="358.20" stroke="#FFD700" stroke-width="0.8"/>
<line x1="291.73" y1="369.20" x2="294.13" y2="369.20" stroke="#FFD700" stroke-width="0.8"/>
<line x1="307.62" y1="352.10" x2="307.62" y2="374.10" stroke="#FFD700" stroke-width="0.8"/>
<line x1="306.42" y1="352.10" x2="308.82" y2="352.10" stroke="#FFD700" stroke-width="0.8"/>
<line x1="306.42" y1="374.10" x2="308.82" y2="374.10" stroke="#FFD700" stroke-width="0.8"/>
<line x1="322.31" y1="345.20" x2="322.31" y2="379.50" stroke="#FFD700" stroke-width="0.8"/>
<line x1="321.11" y1="345.20" x2="323.51" y2="345.20" stroke="#FFD700" stroke-width="0.8"/>
<line x1="321.11" y1="379.50" x2="323.51" y2="379.50" stroke="#FFD700" stroke-width="0.8"/>
<line x1="28.15" y1="348.40" x2="337.30" y2="348.40" stroke="#555" stroke-width="1.0" stroke-dasharray="2.9,2.04"/>
<line x1="28.35" y1="211.80" x2="28.35" y2="392.00" stroke="#444" stroke-width="1"/>
<line x1="27.70" y1="391.50" x2="337.30" y2="391.50" stroke="#5a5a5a" stroke-width="1"/>
<text x="25.60" y="386.80" font-size="5.5" text-anchor="end" font-weight="normal" fill="#4d4d4d">0.0</text>
<text x="25.60" y="368.60" font-size="5.5" text-anchor="end" font-weight="normal" fill="#4d4d4d">0.5</text>
<text x="25.60" y="350.40" font-size="5.5" text-anchor="end" font-weight="normal" fill="#4d4d4d">1.0</text>
<text x="25.60" y="332.20" font-size="5.5" text-anchor="end" font-weight="normal" fill="#4d4d4d">1.5</text>
<text x="25.60" y="314.00" font-size="5.5" text-anchor="end" font-weight="normal" fill="#4d4d4d">2.0</text>
<text x="25.60" y="295.80" font-size="5.5" text-anchor="end" font-weight="normal" fill="#4d4d4d">2.5</text>
<text x="25.60" y="277.60" font-size="5.5" text-anchor="end" font-weight="normal" fill="#4d4d4d">3.0</text>
<text x="25.60" y="259.40" font-size="5.5" text-anchor="end" font-weight="normal" fill="#4d4d4d">3.5</text>
<text transform="translate(40.30 399.30) rotate(-45)" x="0" y="1.79" font-size="5.0" text-anchor="middle" fill="#333" stroke="#333" stroke-width="0.2">1897</text>
<text transform="translate(55.04 399.30) rotate(-45)" x="0" y="1.79" font-size="5.0" text-anchor="middle" fill="#333" stroke="#333" stroke-width="0.2">1902</text>
<text transform="translate(69.78 399.30) rotate(-45)" x="0" y="1.79" font-size="5.0" text-anchor="middle" fill="#333" stroke="#333" stroke-width="0.2">1907</text>
<text transform="translate(84.52 399.30) rotate(-45)" x="0" y="1.79" font-size="5.0" text-anchor="middle" fill="#333" stroke="#333" stroke-width="0.2">1912</text>
<text transform="translate(99.26 399.30) rotate(-45)" x="0" y="1.79" font-size="5.0" text-anchor="middle" fill="#333" stroke="#333" stroke-width="0.2">1917</text>
<text transform="translate(114.00 399.30) rotate(-45)" x="0" y="1.79" font-size="5.0" text-anchor="middle" fill="#333" stroke="#333" stroke-width="0.2">1922</text>
<text transform="translate(128.74 399.30) rotate(-45)" x="0" y="1.79" font-size="5.0" text-anchor="middle" fill="#333" stroke="#333" stroke-width="0.2">1927</text>
<text transform="translate(143.48 399.30) rotate(-45)" x="0" y="1.79" font-size="5.0" text-anchor="middle" fill="#333" stroke="#333" stroke-width="0.2">1932</text>
<text transform="translate(158.22 399.30) rotate(-45)" x="0" y="1.79" font-size="5.0" text-anchor="middle" fill="#333" stroke="#333" stroke-width="0.2">1937</text>
<text transform="translate(172.96 399.30) rotate(-45)" x="0" y="1.79" font-size="5.0" text-anchor="middle" fill="#333" stroke="#333" stroke-width="0.2">1942</text>
<text transform="translate(187.70 399.30) rotate(-45)" x="0" y="1.79" font-size="5.0" text-anchor="middle" fill="#333" stroke="#333" stroke-width="0.2">1947</text>
<text transform="translate(202.44 399.30) rotate(-45)" x="0" y="1.79" font-size="5.0" text-anchor="middle" fill="#333" stroke="#333" stroke-width="0.2">1952</text>
<text transform="translate(217.18 399.30) rotate(-45)" x="0" y="1.79" font-size="5.0" text-anchor="middle" fill="#333" stroke="#333" stroke-width="0.2">1957</text>
<text transform="translate(231.92 399.30) rotate(-45)" x="0" y="1.79" font-size="5.0" text-anchor="middle" fill="#333" stroke="#333" stroke-width="0.2">1962</text>
<text transform="translate(246.66 399.30) rotate(-45)" x="0" y="1.79" font-size="5.0" text-anchor="middle" fill="#333" stroke="#333" stroke-width="0.2">1967</text>
<text transform="translate(261.40 399.30) rotate(-45)" x="0" y="1.79" font-size="5.0" text-anchor="middle" fill="#333" stroke="#333" stroke-width="0.2">1972</text>
<text transform="translate(276.14 399.30) rotate(-45)" x="0" y="1.79" font-size="5.0" text-anchor="middle" fill="#333" stroke="#333" stroke-width="0.2">1977</text>
<text transform="translate(290.88 399.30) rotate(-45)" x="0" y="1.79" font-size="5.0" text-anchor="middle" fill="#333" stroke="#333" stroke-width="0.2">1982</text>
<text transform="translate(305.62 399.30) rotate(-45)" x="0" y="1.79" font-size="5.0" text-anchor="middle" fill="#333" stroke="#333" stroke-width="0.2">1987</text>
<text transform="translate(320.36 399.30) rotate(-45)" x="0" y="1.79" font-size="5.0" text-anchor="middle" fill="#333" stroke="#333" stroke-width="0.2">1992</text>
<text x="182.80" y="412.10" font-size="7" text-anchor="middle" font-weight="bold" fill="#000">Cohort</text>
<text x="15.10" y="301.00" font-size="7" text-anchor="middle" font-weight="bold" fill="#000" transform="rotate(-90 15.10 301.00)">Rate Ratio</text>
<text x="-0.30" y="221.00" font-size="17.8" text-anchor="start" font-weight="bold" fill="#000">C</text>
<polyline points="392.50,322.50 412.26,321.10 432.02,319.10 451.78,316.80 471.54,315.30 491.30,315.50 511.06,315.50 530.82,313.00 550.58,310.90 570.34,306.10 590.10,302.40 609.86,294.00 629.62,284.60 649.38,274.80 669.14,264.60" fill="none" stroke="#FF8C00" stroke-width="0.8" stroke-linejoin="round"/>
<polyline points="392.50,291.20 412.26,293.70 432.02,294.50 451.78,295.40 471.54,297.40 491.30,296.50 511.06,292.80 530.82,290.20 550.58,282.20 570.34,273.50 590.10,265.40 609.86,258.20 629.62,253.70 649.38,250.20 669.14,248.00" fill="none" stroke="#00EEFF" stroke-width="0.8" stroke-linejoin="round"/>
<polyline points="392.50,299.50 412.26,296.00 432.02,291.20 451.78,286.60 471.54,286.40 491.30,284.70 511.06,283.50 530.82,285.00 550.58,280.70 570.34,273.50 590.10,264.80 609.86,257.60 629.62,252.00 649.38,249.10 669.14,248.00" fill="none" stroke="#7FFF00" stroke-width="0.8" stroke-linejoin="round"/>
<polyline points="392.50,345.60 412.26,344.40 432.02,343.00 451.78,341.10 471.54,340.20 491.30,342.20 511.06,343.80 530.82,340.20 550.58,335.50 570.34,329.70 590.10,324.10 609.86,315.30 629.62,305.00 649.38,293.30 669.14,282.40" fill="none" stroke="#9B30FF" stroke-width="0.8" stroke-linejoin="round"/>
<polyline points="392.50,348.40 412.26,348.40 432.02,351.50 451.78,353.60 471.54,352.20 491.30,350.80 511.06,349.90 530.82,345.80 550.58,339.70 570.34,336.10 590.10,333.30 609.86,320.20 629.62,305.00 649.38,290.70 669.14,275.90" fill="none" stroke="#8B7355" stroke-width="0.8" stroke-linejoin="round"/>
<polyline points="392.50,295.50 412.26,296.00 432.02,301.50 451.78,301.50 471.54,293.10 491.30,286.40 511.06,283.80 530.82,289.80 550.58,299.10 570.34,301.70 590.10,300.00 609.86,291.10 629.62,276.50 649.38,266.10 669.14,256.70" fill="none" stroke="#FFD700" stroke-width="0.8" stroke-linejoin="round"/>
<line x1="391.30" y1="301.30" x2="393.70" y2="301.30" stroke="#FF8C00" stroke-width="0.8"/>
<line x1="391.30" y1="342.30" x2="393.70" y2="342.30" stroke="#FF8C00" stroke-width="0.8"/>
<line x1="412.26" y1="324.90" x2="412.26" y2="327.20" stroke="#FF8C00" stroke-width="0.8"/>
<line x1="411.06" y1="309.50" x2="413.46" y2="309.50" stroke="#FF8C00" stroke-width="0.8"/>
<line x1="411.06" y1="333.40" x2="413.46" y2="333.40" stroke="#FF8C00" stroke-width="0.8"/>
<line x1="432.02" y1="317.50" x2="432.02" y2="327.80" stroke="#FF8C00" stroke-width="0.8"/>
<line x1="430.82" y1="310.40" x2="433.22" y2="310.40" stroke="#FF8C00" stroke-width="0.8"/>
<line x1="430.82" y1="327.80" x2="433.22" y2="327.80" stroke="#FF8C00" stroke-width="0.8"/>
<line x1="451.78" y1="310.00" x2="451.78" y2="322.20" stroke="#FF8C00" stroke-width="0.8"/>
<line x1="450.58" y1="309.80" x2="452.98" y2="309.80" stroke="#FF8C00" stroke-width="0.8"/>
<line x1="450.58" y1="322.20" x2="452.98" y2="322.20" stroke="#FF8C00" stroke-width="0.8"/>
<line x1="471.54" y1="312.00" x2="471.54" y2="318.50" stroke="#FF8C00" stroke-width="0.8"/>
<line x1="470.34" y1="312.00" x2="472.74" y2="312.00" stroke="#FF8C00" stroke-width="0.8"/>
<line x1="470.34" y1="318.50" x2="472.74" y2="318.50" stroke="#FF8C00" stroke-width="0.8"/>
<line x1="491.30" y1="313.00" x2="491.30" y2="318.00" stroke="#FF8C00" stroke-width="0.8"/>
<line x1="490.10" y1="313.00" x2="492.50" y2="313.00" stroke="#FF8C00" stroke-width="0.8"/>
<line x1="490.10" y1="318.00" x2="492.50" y2="318.00" stroke="#FF8C00" stroke-width="0.8"/>
<line x1="511.06" y1="313.80" x2="511.06" y2="317.40" stroke="#FF8C00" stroke-width="0.8"/>
<line x1="509.86" y1="313.80" x2="512.26" y2="313.80" stroke="#FF8C00" stroke-width="0.8"/>
<line x1="509.86" y1="317.40" x2="512.26" y2="317.40" stroke="#FF8C00" stroke-width="0.8"/>
<line x1="530.82" y1="311.80" x2="530.82" y2="314.20" stroke="#FF8C00" stroke-width="0.8"/>
<line x1="529.62" y1="311.80" x2="532.02" y2="311.80" stroke="#FF8C00" stroke-width="0.8"/>
<line x1="529.62" y1="314.20" x2="532.02" y2="314.20" stroke="#FF8C00" stroke-width="0.8"/>
<line x1="550.58" y1="309.90" x2="550.58" y2="311.90" stroke="#FF8C00" stroke-width="0.8"/>
<line x1="549.38" y1="309.90" x2="551.78" y2="309.90" stroke="#FF8C00" stroke-width="0.8"/>
<line x1="549.38" y1="311.90" x2="551.78" y2="311.90" stroke="#FF8C00" stroke-width="0.8"/>
<line x1="570.34" y1="305.10" x2="570.34" y2="307.10" stroke="#FF8C00" stroke-width="0.8"/>
<line x1="569.14" y1="305.10" x2="571.54" y2="305.10" stroke="#FF8C00" stroke-width="0.8"/>
<line x1="569.14" y1="307.10" x2="571.54" y2="307.10" stroke="#FF8C00" stroke-width="0.8"/>
<line x1="590.10" y1="301.40" x2="590.10" y2="303.40" stroke="#FF8C00" stroke-width="0.8"/>
<line x1="588.90" y1="301.40" x2="591.30" y2="301.40" stroke="#FF8C00" stroke-width="0.8"/>
<line x1="588.90" y1="303.40" x2="591.30" y2="303.40" stroke="#FF8C00" stroke-width="0.8"/>
<line x1="609.86" y1="292.60" x2="609.86" y2="295.40" stroke="#FF8C00" stroke-width="0.8"/>
<line x1="608.66" y1="292.60" x2="611.06" y2="292.60" stroke="#FF8C00" stroke-width="0.8"/>
<line x1="608.66" y1="295.40" x2="611.06" y2="295.40" stroke="#FF8C00" stroke-width="0.8"/>
<line x1="629.62" y1="282.40" x2="629.62" y2="286.80" stroke="#FF8C00" stroke-width="0.8"/>
<line x1="628.42" y1="282.40" x2="630.82" y2="282.40" stroke="#FF8C00" stroke-width="0.8"/>
<line x1="628.42" y1="286.80" x2="630.82" y2="286.80" stroke="#FF8C00" stroke-width="0.8"/>
<line x1="649.38" y1="272.40" x2="649.38" y2="277.20" stroke="#FF8C00" stroke-width="0.8"/>
<line x1="648.18" y1="272.40" x2="650.58" y2="272.40" stroke="#FF8C00" stroke-width="0.8"/>
<line x1="648.18" y1="277.20" x2="650.58" y2="277.20" stroke="#FF8C00" stroke-width="0.8"/>
<line x1="667.94" y1="261.80" x2="670.34" y2="261.80" stroke="#FF8C00" stroke-width="0.8"/>
<line x1="667.94" y1="267.40" x2="670.34" y2="267.40" stroke="#FF8C00" stroke-width="0.8"/>
<line x1="391.30" y1="252.00" x2="393.70" y2="252.00" stroke="#00EEFF" stroke-width="0.8"/>
<line x1="391.30" y1="329.40" x2="393.70" y2="329.40" stroke="#00EEFF" stroke-width="0.8"/>
<line x1="411.06" y1="268.00" x2="413.46" y2="268.00" stroke="#00EEFF" stroke-width="0.8"/>
<line x1="411.06" y1="318.30" x2="413.46" y2="318.30" stroke="#00EEFF" stroke-width="0.8"/>
<line x1="430.82" y1="276.30" x2="433.22" y2="276.30" stroke="#00EEFF" stroke-width="0.8"/>
<line x1="430.82" y1="312.70" x2="433.22" y2="312.70" stroke="#00EEFF" stroke-width="0.8"/>
<line x1="450.58" y1="281.80" x2="452.98" y2="281.80" stroke="#00EEFF" stroke-width="0.8"/>
<line x1="450.58" y1="308.40" x2="452.98" y2="308.40" stroke="#00EEFF" stroke-width="0.8"/>
<line x1="471.54" y1="299.00" x2="471.54" y2="306.70" stroke="#00EEFF" stroke-width="0.8"/>
<line x1="470.34" y1="288.00" x2="472.74" y2="288.00" stroke="#00EEFF" stroke-width="0.8"/>
<line x1="470.34" y1="306.70" x2="472.74" y2="306.70" stroke="#00EEFF" stroke-width="0.8"/>
<line x1="491.30" y1="292.40" x2="491.30" y2="303.30" stroke="#00EEFF" stroke-width="0.8"/>
<line x1="490.10" y1="290.60" x2="492.50" y2="290.60" stroke="#00EEFF" stroke-width="0.8"/>
<line x1="490.10" y1="303.30" x2="492.50" y2="303.30" stroke="#00EEFF" stroke-width="0.8"/>
<line x1="511.06" y1="288.50" x2="511.06" y2="297.40" stroke="#00EEFF" stroke-width="0.8"/>
<line x1="509.86" y1="287.60" x2="512.26" y2="287.60" stroke="#00EEFF" stroke-width="0.8"/>
<line x1="509.86" y1="297.40" x2="512.26" y2="297.40" stroke="#00EEFF" stroke-width="0.8"/>
<line x1="530.82" y1="292.50" x2="530.82" y2="293.70" stroke="#00EEFF" stroke-width="0.8"/>
<line x1="529.62" y1="287.00" x2="532.02" y2="287.00" stroke="#00EEFF" stroke-width="0.8"/>
<line x1="529.62" y1="293.70" x2="532.02" y2="293.70" stroke="#00EEFF" stroke-width="0.8"/>
<line x1="550.58" y1="283.20" x2="550.58" y2="284.70" stroke="#00EEFF" stroke-width="0.8"/>
<line x1="549.38" y1="279.70" x2="551.78" y2="279.70" stroke="#00EEFF" stroke-width="0.8"/>
<line x1="549.38" y1="284.70" x2="551.78" y2="284.70" stroke="#00EEFF" stroke-width="0.8"/>
<line x1="569.14" y1="270.70" x2="571.54" y2="270.70" stroke="#00EEFF" stroke-width="0.8"/>
<line x1="569.14" y1="276.30" x2="571.54" y2="276.30" stroke="#00EEFF" stroke-width="0.8"/>
<line x1="590.10" y1="267.80" x2="590.10" y2="268.40" stroke="#00EEFF" stroke-width="0.8"/>
<line x1="588.90" y1="262.40" x2="591.30" y2="262.40" stroke="#00EEFF" stroke-width="0.8"/>
<line x1="588.90" y1="268.40" x2="591.30" y2="268.40" stroke="#00EEFF" stroke-width="0.8"/>
<line x1="609.86" y1="253.00" x2="609.86" y2="254.30" stroke="#00EEFF" stroke-width="0.8"/>
<line x1="609.86" y1="260.90" x2="609.86" y2="263.00" stroke="#00EEFF" stroke-width="0.8"/>
<line x1="608.66" y1="253.00" x2="611.06" y2="253.00" stroke="#00EEFF" stroke-width="0.8"/>
<line x1="608.66" y1="263.00" x2="611.06" y2="263.00" stroke="#00EEFF" stroke-width="0.8"/>
<line x1="629.62" y1="258.00" x2="629.62" y2="260.20" stroke="#00EEFF" stroke-width="0.8"/>
<line x1="628.42" y1="247.20" x2="630.82" y2="247.20" stroke="#00EEFF" stroke-width="0.8"/>
<line x1="628.42" y1="260.20" x2="630.82" y2="260.20" stroke="#00EEFF" stroke-width="0.8"/>
<line x1="648.18" y1="245.50" x2="650.58" y2="245.50" stroke="#00EEFF" stroke-width="0.8"/>
<line x1="648.18" y1="255.00" x2="650.58" y2="255.00" stroke="#00EEFF" stroke-width="0.8"/>
<line x1="669.14" y1="219.30" x2="669.14" y2="224.80" stroke="#00EEFF" stroke-width="0.8"/>
<line x1="667.94" y1="219.30" x2="670.34" y2="219.30" stroke="#00EEFF" stroke-width="0.8"/>
<line x1="667.94" y1="276.70" x2="670.34" y2="276.70" stroke="#00EEFF" stroke-width="0.8"/>
<line x1="391.30" y1="251.50" x2="393.70" y2="251.50" stroke="#7FFF00" stroke-width="0.8"/>
<line x1="391.30" y1="346.20" x2="393.70" y2="346.20" stroke="#7FFF00" stroke-width="0.8"/>
<line x1="412.26" y1="268.00" x2="412.26" y2="270.30" stroke="#7FFF00" stroke-width="0.8"/>
<line x1="412.26" y1="319.10" x2="412.26" y2="324.90" stroke="#7FFF00" stroke-width="0.8"/>
<line x1="411.06" y1="268.00" x2="413.46" y2="268.00" stroke="#7FFF00" stroke-width="0.8"/>
<line x1="411.06" y1="324.90" x2="413.46" y2="324.90" stroke="#7FFF00" stroke-width="0.8"/>
<line x1="432.02" y1="271.90" x2="432.02" y2="285.40" stroke="#7FFF00" stroke-width="0.8"/>
<line x1="430.82" y1="271.90" x2="433.22" y2="271.90" stroke="#7FFF00" stroke-width="0.8"/>
<line x1="430.82" y1="310.00" x2="433.22" y2="310.00" stroke="#7FFF00" stroke-width="0.8"/>
<line x1="451.78" y1="273.40" x2="451.78" y2="293.00" stroke="#7FFF00" stroke-width="0.8"/>
<line x1="450.58" y1="273.40" x2="452.98" y2="273.40" stroke="#7FFF00" stroke-width="0.8"/>
<line x1="450.58" y1="300.00" x2="452.98" y2="300.00" stroke="#7FFF00" stroke-width="0.8"/>
<line x1="471.54" y1="277.40" x2="471.54" y2="287.00" stroke="#7FFF00" stroke-width="0.8"/>
<line x1="470.34" y1="277.40" x2="472.74" y2="277.40" stroke="#7FFF00" stroke-width="0.8"/>
<line x1="470.34" y1="295.50" x2="472.74" y2="295.50" stroke="#7FFF00" stroke-width="0.8"/>
<line x1="491.30" y1="279.70" x2="491.30" y2="282.10" stroke="#7FFF00" stroke-width="0.8"/>
<line x1="491.30" y1="290.80" x2="491.30" y2="292.40" stroke="#7FFF00" stroke-width="0.8"/>
<line x1="490.10" y1="279.70" x2="492.50" y2="279.70" stroke="#7FFF00" stroke-width="0.8"/>
<line x1="490.10" y1="292.40" x2="492.50" y2="292.40" stroke="#7FFF00" stroke-width="0.8"/>
<line x1="511.06" y1="278.50" x2="511.06" y2="280.00" stroke="#7FFF00" stroke-width="0.8"/>
<line x1="511.06" y1="287.50" x2="511.06" y2="288.50" stroke="#7FFF00" stroke-width="0.8"/>
<line x1="509.86" y1="278.50" x2="512.26" y2="278.50" stroke="#7FFF00" stroke-width="0.8"/>
<line x1="509.86" y1="288.50" x2="512.26" y2="288.50" stroke="#7FFF00" stroke-width="0.8"/>
<line x1="530.82" y1="281.00" x2="530.82" y2="287.00" stroke="#7FFF00" stroke-width="0.8"/>
<line x1="529.62" y1="281.00" x2="532.02" y2="281.00" stroke="#7FFF00" stroke-width="0.8"/>
<line x1="529.62" y1="289.00" x2="532.02" y2="289.00" stroke="#7FFF00" stroke-width="0.8"/>
<line x1="550.58" y1="278.20" x2="550.58" y2="283.20" stroke="#7FFF00" stroke-width="0.8"/>
<line x1="549.38" y1="278.20" x2="551.78" y2="278.20" stroke="#7FFF00" stroke-width="0.8"/>
<line x1="549.38" y1="283.20" x2="551.78" y2="283.20" stroke="#7FFF00" stroke-width="0.8"/>
<line x1="570.34" y1="270.70" x2="570.34" y2="276.30" stroke="#7FFF00" stroke-width="0.8"/>
<line x1="569.14" y1="270.70" x2="571.54" y2="270.70" stroke="#7FFF00" stroke-width="0.8"/>
<line x1="569.14" y1="276.30" x2="571.54" y2="276.30" stroke="#7FFF00" stroke-width="0.8"/>
<line x1="590.10" y1="261.80" x2="590.10" y2="267.80" stroke="#7FFF00" stroke-width="0.8"/>
<line x1="588.90" y1="261.80" x2="591.30" y2="261.80" stroke="#7FFF00" stroke-width="0.8"/>
<line x1="588.90" y1="267.80" x2="591.30" y2="267.80" stroke="#7FFF00" stroke-width="0.8"/>
<line x1="609.86" y1="254.30" x2="609.86" y2="260.90" stroke="#7FFF00" stroke-width="0.8"/>
<line x1="608.66" y1="254.30" x2="611.06" y2="254.30" stroke="#7FFF00" stroke-width="0.8"/>
<line x1="608.66" y1="260.90" x2="611.06" y2="260.90" stroke="#7FFF00" stroke-width="0.8"/>
<line x1="629.62" y1="247.20" x2="629.62" y2="258.00" stroke="#7FFF00" stroke-width="0.8"/>
<line x1="628.42" y1="247.20" x2="630.82" y2="247.20" stroke="#7FFF00" stroke-width="0.8"/>
<line x1="628.42" y1="258.00" x2="630.82" y2="258.00" stroke="#7FFF00" stroke-width="0.8"/>
<line x1="649.38" y1="238.90" x2="649.38" y2="258.50" stroke="#7FFF00" stroke-width="0.8"/>
<line x1="648.18" y1="238.90" x2="650.58" y2="238.90" stroke="#7FFF00" stroke-width="0.8"/>
<line x1="648.18" y1="258.50" x2="650.58" y2="258.50" stroke="#7FFF00" stroke-width="0.8"/>
<line x1="669.14" y1="224.80" x2="669.14" y2="253.20" stroke="#7FFF00" stroke-width="0.8"/>
<line x1="669.14" y1="260.20" x2="669.14" y2="264.60" stroke="#7FFF00" stroke-width="0.8"/>
<line x1="667.94" y1="224.80" x2="670.34" y2="224.80" stroke="#7FFF00" stroke-width="0.8"/>
<line x1="667.94" y1="271.20" x2="670.34" y2="271.20" stroke="#7FFF00" stroke-width="0.8"/>
<line x1="391.30" y1="324.20" x2="393.70" y2="324.20" stroke="#9B30FF" stroke-width="0.8"/>
<line x1="391.30" y1="367.00" x2="393.70" y2="367.00" stroke="#9B30FF" stroke-width="0.8"/>
<line x1="411.06" y1="327.20" x2="413.46" y2="327.20" stroke="#9B30FF" stroke-width="0.8"/>
<line x1="411.06" y1="356.60" x2="413.46" y2="356.60" stroke="#9B30FF" stroke-width="0.8"/>
<line x1="432.02" y1="334.30" x2="432.02" y2="337.40" stroke="#9B30FF" stroke-width="0.8"/>
<line x1="430.82" y1="334.30" x2="433.22" y2="334.30" stroke="#9B30FF" stroke-width="0.8"/>
<line x1="430.82" y1="351.70" x2="433.22" y2="351.70" stroke="#9B30FF" stroke-width="0.8"/>
<line x1="451.78" y1="335.90" x2="451.78" y2="344.10" stroke="#9B30FF" stroke-width="0.8"/>
<line x1="450.58" y1="335.90" x2="452.98" y2="335.90" stroke="#9B30FF" stroke-width="0.8"/>
<line x1="450.58" y1="347.40" x2="452.98" y2="347.40" stroke="#9B30FF" stroke-width="0.8"/>
<line x1="471.54" y1="336.60" x2="471.54" y2="344.40" stroke="#9B30FF" stroke-width="0.8"/>
<line x1="470.34" y1="336.60" x2="472.74" y2="336.60" stroke="#9B30FF" stroke-width="0.8"/>
<line x1="470.34" y1="344.40" x2="472.74" y2="344.40" stroke="#9B30FF" stroke-width="0.8"/>
<line x1="491.30" y1="339.40" x2="491.30" y2="345.00" stroke="#9B30FF" stroke-width="0.8"/>
<line x1="490.10" y1="339.40" x2="492.50" y2="339.40" stroke="#9B30FF" stroke-width="0.8"/>
<line x1="490.10" y1="345.00" x2="492.50" y2="345.00" stroke="#9B30FF" stroke-width="0.8"/>
<line x1="511.06" y1="342.00" x2="511.06" y2="345.60" stroke="#9B30FF" stroke-width="0.8"/>
<line x1="509.86" y1="342.00" x2="512.26" y2="342.00" stroke="#9B30FF" stroke-width="0.8"/>
<line x1="509.86" y1="345.60" x2="512.26" y2="345.60" stroke="#9B30FF" stroke-width="0.8"/>
<line x1="530.82" y1="339.00" x2="530.82" y2="341.40" stroke="#9B30FF" stroke-width="0.8"/>
<line x1="529.62" y1="339.00" x2="532.02" y2="339.00" stroke="#9B30FF" stroke-width="0.8"/>
<line x1="529.62" y1="341.40" x2="532.02" y2="341.40" stroke="#9B30FF" stroke-width="0.8"/>
<line x1="550.58" y1="334.50" x2="550.58" y2="336.50" stroke="#9B30FF" stroke-width="0.8"/>
<line x1="549.38" y1="334.50" x2="551.78" y2="334.50" stroke="#9B30FF" stroke-width="0.8"/>
<line x1="549.38" y1="336.50" x2="551.78" y2="336.50" stroke="#9B30FF" stroke-width="0.8"/>
<line x1="570.34" y1="328.70" x2="570.34" y2="330.70" stroke="#9B30FF" stroke-width="0.8"/>
<line x1="569.14" y1="328.70" x2="571.54" y2="328.70" stroke="#9B30FF" stroke-width="0.8"/>
<line x1="569.14" y1="330.70" x2="571.54" y2="330.70" stroke="#9B30FF" stroke-width="0.8"/>
<line x1="590.10" y1="323.10" x2="590.10" y2="325.10" stroke="#9B30FF" stroke-width="0.8"/>
<line x1="588.90" y1="323.10" x2="591.30" y2="323.10" stroke="#9B30FF" stroke-width="0.8"/>
<line x1="588.90" y1="325.10" x2="591.30" y2="325.10" stroke="#9B30FF" stroke-width="0.8"/>
<line x1="609.86" y1="314.10" x2="609.86" y2="316.50" stroke="#9B30FF" stroke-width="0.8"/>
<line x1="608.66" y1="314.10" x2="611.06" y2="314.10" stroke="#9B30FF" stroke-width="0.8"/>
<line x1="608.66" y1="316.50" x2="611.06" y2="316.50" stroke="#9B30FF" stroke-width="0.8"/>
<line x1="628.42" y1="303.40" x2="630.82" y2="303.40" stroke="#9B30FF" stroke-width="0.8"/>
<line x1="628.42" y1="306.60" x2="630.82" y2="306.60" stroke="#9B30FF" stroke-width="0.8"/>
<line x1="649.38" y1="294.20" x2="649.38" y2="295.90" stroke="#9B30FF" stroke-width="0.8"/>
<line x1="648.18" y1="290.80" x2="650.58" y2="290.80" stroke="#9B30FF" stroke-width="0.8"/>
<line x1="648.18" y1="295.90" x2="650.58" y2="295.90" stroke="#9B30FF" stroke-width="0.8"/>
<line x1="669.14" y1="286.70" x2="669.14" y2="290.00" stroke="#9B30FF" stroke-width="0.8"/>
<line x1="667.94" y1="273.70" x2="670.34" y2="273.70" stroke="#9B30FF" stroke-width="0.8"/>
<line x1="667.94" y1="290.00" x2="670.34" y2="290.00" stroke="#9B30FF" stroke-width="0.8"/>
<line x1="392.50" y1="340.30" x2="392.50" y2="386.70" stroke="#8B7355" stroke-width="0.8"/>
<line x1="391.30" y1="308.30" x2="393.70" y2="308.30" stroke="#8B7355" stroke-width="0.8"/>
<line x1="391.30" y1="386.70" x2="393.70" y2="386.70" stroke="#8B7355" stroke-width="0.8"/>
<line x1="412.26" y1="327.30" x2="412.26" y2="369.20" stroke="#8B7355" stroke-width="0.8"/>
<line x1="411.06" y1="327.30" x2="413.46" y2="327.30" stroke="#8B7355" stroke-width="0.8"/>
<line x1="411.06" y1="369.20" x2="413.46" y2="369.20" stroke="#8B7355" stroke-width="0.8"/>
<line x1="432.02" y1="337.40" x2="432.02" y2="365.20" stroke="#8B7355" stroke-width="0.8"/>
<line x1="430.82" y1="337.40" x2="433.22" y2="337.40" stroke="#8B7355" stroke-width="0.8"/>
<line x1="430.82" y1="365.20" x2="433.22" y2="365.20" stroke="#8B7355" stroke-width="0.8"/>
<line x1="451.78" y1="344.10" x2="451.78" y2="363.50" stroke="#8B7355" stroke-width="0.8"/>
<line x1="450.58" y1="344.10" x2="452.98" y2="344.10" stroke="#8B7355" stroke-width="0.8"/>
<line x1="450.58" y1="363.50" x2="452.98" y2="363.50" stroke="#8B7355" stroke-width="0.8"/>
<line x1="471.54" y1="345.00" x2="471.54" y2="358.80" stroke="#8B7355" stroke-width="0.8"/>
<line x1="470.34" y1="345.00" x2="472.74" y2="345.00" stroke="#8B7355" stroke-width="0.8"/>
<line x1="470.34" y1="358.80" x2="472.74" y2="358.80" stroke="#8B7355" stroke-width="0.8"/>
<line x1="491.30" y1="345.80" x2="491.30" y2="355.50" stroke="#8B7355" stroke-width="0.8"/>
<line x1="490.10" y1="345.80" x2="492.50" y2="345.80" stroke="#8B7355" stroke-width="0.8"/>
<line x1="490.10" y1="355.50" x2="492.50" y2="355.50" stroke="#8B7355" stroke-width="0.8"/>
<line x1="511.06" y1="347.00" x2="511.06" y2="353.00" stroke="#8B7355" stroke-width="0.8"/>
<line x1="509.86" y1="347.00" x2="512.26" y2="347.00" stroke="#8B7355" stroke-width="0.8"/>
<line x1="509.86" y1="353.00" x2="512.26" y2="353.00" stroke="#8B7355" stroke-width="0.8"/>
<line x1="530.82" y1="343.50" x2="530.82" y2="348.10" stroke="#8B7355" stroke-width="0.8"/>
<line x1="529.62" y1="343.50" x2="532.02" y2="343.50" stroke="#8B7355" stroke-width="0.8"/>
<line x1="529.62" y1="348.10" x2="532.02" y2="348.10" stroke="#8B7355" stroke-width="0.8"/>
<line x1="550.58" y1="338.10" x2="550.58" y2="341.30" stroke="#8B7355" stroke-width="0.8"/>
<line x1="549.38" y1="338.10" x2="551.78" y2="338.10" stroke="#8B7355" stroke-width="0.8"/>
<line x1="549.38" y1="341.30" x2="551.78" y2="341.30" stroke="#8B7355" stroke-width="0.8"/>
<line x1="570.34" y1="334.70" x2="570.34" y2="337.50" stroke="#8B7355" stroke-width="0.8"/>
<line x1="569.14" y1="334.70" x2="571.54" y2="334.70" stroke="#8B7355" stroke-width="0.8"/>
<line x1="569.14" y1="337.50" x2="571.54" y2="337.50" stroke="#8B7355" stroke-width="0.8"/>
<line x1="590.10" y1="332.00" x2="590.10" y2="334.60" stroke="#8B7355" stroke-width="0.8"/>
<line x1="588.90" y1="332.00" x2="591.30" y2="332.00" stroke="#8B7355" stroke-width="0.8"/>
<line x1="588.90" y1="334.60" x2="591.30" y2="334.60" stroke="#8B7355" stroke-width="0.8"/>
<line x1="609.86" y1="318.70" x2="609.86" y2="321.70" stroke="#8B7355" stroke-width="0.8"/>
<line x1="608.66" y1="318.70" x2="611.06" y2="318.70" stroke="#8B7355" stroke-width="0.8"/>
<line x1="608.66" y1="321.70" x2="611.06" y2="321.70" stroke="#8B7355" stroke-width="0.8"/>
<line x1="629.62" y1="303.20" x2="629.62" y2="306.80" stroke="#8B7355" stroke-width="0.8"/>
<line x1="628.42" y1="303.20" x2="630.82" y2="303.20" stroke="#8B7355" stroke-width="0.8"/>
<line x1="628.42" y1="306.80" x2="630.82" y2="306.80" stroke="#8B7355" stroke-width="0.8"/>
<line x1="649.38" y1="287.20" x2="649.38" y2="294.20" stroke="#8B7355" stroke-width="0.8"/>
<line x1="648.18" y1="287.20" x2="650.58" y2="287.20" stroke="#8B7355" stroke-width="0.8"/>
<line x1="648.18" y1="294.20" x2="650.58" y2="294.20" stroke="#8B7355" stroke-width="0.8"/>
<line x1="669.14" y1="264.60" x2="669.14" y2="286.70" stroke="#8B7355" stroke-width="0.8"/>
<line x1="667.94" y1="264.60" x2="670.34" y2="264.60" stroke="#8B7355" stroke-width="0.8"/>
<line x1="667.94" y1="286.70" x2="670.34" y2="286.70" stroke="#8B7355" stroke-width="0.8"/>
<line x1="392.50" y1="250.60" x2="392.50" y2="340.30" stroke="#FFD700" stroke-width="0.8"/>
<line x1="391.30" y1="250.60" x2="393.70" y2="250.60" stroke="#FFD700" stroke-width="0.8"/>
<line x1="391.30" y1="340.30" x2="393.70" y2="340.30" stroke="#FFD700" stroke-width="0.8"/>
<line x1="412.26" y1="270.30" x2="412.26" y2="319.10" stroke="#FFD700" stroke-width="0.8"/>
<line x1="411.06" y1="270.30" x2="413.46" y2="270.30" stroke="#FFD700" stroke-width="0.8"/>
<line x1="411.06" y1="319.10" x2="413.46" y2="319.10" stroke="#FFD700" stroke-width="0.8"/>
<line x1="432.02" y1="285.40" x2="432.02" y2="317.50" stroke="#FFD700" stroke-width="0.8"/>
<line x1="430.82" y1="285.40" x2="433.22" y2="285.40" stroke="#FFD700" stroke-width="0.8"/>
<line x1="430.82" y1="317.50" x2="433.22" y2="317.50" stroke="#FFD700" stroke-width="0.8"/>
<line x1="451.78" y1="293.00" x2="451.78" y2="310.00" stroke="#FFD700" stroke-width="0.8"/>
<line x1="450.58" y1="293.00" x2="452.98" y2="293.00" stroke="#FFD700" stroke-width="0.8"/>
<line x1="450.58" y1="310.00" x2="452.98" y2="310.00" stroke="#FFD700" stroke-width="0.8"/>
<line x1="471.54" y1="287.00" x2="471.54" y2="299.00" stroke="#FFD700" stroke-width="0.8"/>
<line x1="470.34" y1="287.00" x2="472.74" y2="287.00" stroke="#FFD700" stroke-width="0.8"/>
<line x1="470.34" y1="299.00" x2="472.74" y2="299.00" stroke="#FFD700" stroke-width="0.8"/>
<line x1="491.30" y1="282.10" x2="491.30" y2="290.80" stroke="#FFD700" stroke-width="0.8"/>
<line x1="490.10" y1="282.10" x2="492.50" y2="282.10" stroke="#FFD700" stroke-width="0.8"/>
<line x1="490.10" y1="290.80" x2="492.50" y2="290.80" stroke="#FFD700" stroke-width="0.8"/>
<line x1="511.06" y1="280.00" x2="511.06" y2="287.50" stroke="#FFD700" stroke-width="0.8"/>
<line x1="509.86" y1="280.00" x2="512.26" y2="280.00" stroke="#FFD700" stroke-width="0.8"/>
<line x1="509.86" y1="287.50" x2="512.26" y2="287.50" stroke="#FFD700" stroke-width="0.8"/>
<line x1="530.82" y1="287.00" x2="530.82" y2="292.50" stroke="#FFD700" stroke-width="0.8"/>
<line x1="529.62" y1="287.00" x2="532.02" y2="287.00" stroke="#FFD700" stroke-width="0.8"/>
<line x1="529.62" y1="292.50" x2="532.02" y2="292.50" stroke="#FFD700" stroke-width="0.8"/>
<line x1="550.58" y1="297.90" x2="550.58" y2="300.30" stroke="#FFD700" stroke-width="0.8"/>
<line x1="549.38" y1="297.90" x2="551.78" y2="297.90" stroke="#FFD700" stroke-width="0.8"/>
<line x1="549.38" y1="300.30" x2="551.78" y2="300.30" stroke="#FFD700" stroke-width="0.8"/>
<line x1="570.34" y1="300.50" x2="570.34" y2="302.90" stroke="#FFD700" stroke-width="0.8"/>
<line x1="569.14" y1="300.50" x2="571.54" y2="300.50" stroke="#FFD700" stroke-width="0.8"/>
<line x1="569.14" y1="302.90" x2="571.54" y2="302.90" stroke="#FFD700" stroke-width="0.8"/>
<line x1="590.10" y1="298.70" x2="590.10" y2="301.30" stroke="#FFD700" stroke-width="0.8"/>
<line x1="588.90" y1="298.70" x2="591.30" y2="298.70" stroke="#FFD700" stroke-width="0.8"/>
<line x1="588.90" y1="301.30" x2="591.30" y2="301.30" stroke="#FFD700" stroke-width="0.8"/>
<line x1="609.86" y1="289.60" x2="609.86" y2="292.60" stroke="#FFD700" stroke-width="0.8"/>
<line x1="608.66" y1="289.60" x2="611.06" y2="289.60" stroke="#FFD700" stroke-width="0.8"/>
<line x1="608.66" y1="292.60" x2="611.06" y2="292.60" stroke="#FFD700" stroke-width="0.8"/>
<line x1="629.62" y1="274.70" x2="629.62" y2="278.30" stroke="#FFD700" stroke-width="0.8"/>
<line x1="628.42" y1="274.70" x2="630.82" y2="274.70" stroke="#FFD700" stroke-width="0.8"/>
<line x1="628.42" y1="278.30" x2="630.82" y2="278.30" stroke="#FFD700" stroke-width="0.8"/>
<line x1="649.38" y1="263.70" x2="649.38" y2="268.50" stroke="#FFD700" stroke-width="0.8"/>
<line x1="648.18" y1="263.70" x2="650.58" y2="263.70" stroke="#FFD700" stroke-width="0.8"/>
<line x1="648.18" y1="268.50" x2="650.58" y2="268.50" stroke="#FFD700" stroke-width="0.8"/>
<line x1="669.14" y1="253.20" x2="669.14" y2="260.20" stroke="#FFD700" stroke-width="0.8"/>
<line x1="667.94" y1="253.20" x2="670.34" y2="253.20" stroke="#FFD700" stroke-width="0.8"/>
<line x1="667.94" y1="260.20" x2="670.34" y2="260.20" stroke="#FFD700" stroke-width="0.8"/>
<line x1="377.40" y1="277.30" x2="685.00" y2="277.30" stroke="#7FFF00" stroke-width="0.75" stroke-dasharray="2.9,2.04" stroke-dashoffset="0.28"/>
<line x1="377.40" y1="281.20" x2="685.00" y2="281.20" stroke="#00EEFF" stroke-width="0.75" stroke-dasharray="2.9,2.04" stroke-dashoffset="0.28"/>
<line x1="377.40" y1="291.30" x2="685.00" y2="291.30" stroke="#FFD700" stroke-width="0.75" stroke-dasharray="2.9,2.04" stroke-dashoffset="0.28"/>
<line x1="377.40" y1="307.50" x2="685.00" y2="307.50" stroke="#FF8C00" stroke-width="0.75" stroke-dasharray="2.9,2.04" stroke-dashoffset="0.28"/>
<line x1="377.40" y1="331.50" x2="685.00" y2="331.50" stroke="#9B30FF" stroke-width="0.75" stroke-dasharray="2.9,2.04" stroke-dashoffset="0.28"/>
<line x1="377.40" y1="337.60" x2="685.00" y2="337.60" stroke="#8B7355" stroke-width="0.75" stroke-dasharray="2.9,2.04" stroke-dashoffset="0.28"/>
<line x1="377.40" y1="211.60" x2="377.40" y2="396.00" stroke="#555" stroke-width="1"/>
<line x1="376.90" y1="395.50" x2="685.00" y2="395.50" stroke="#555" stroke-width="1"/>
<text x="374.60" y="266.90" font-size="5.5" text-anchor="end" font-weight="normal" fill="#4d4d4d">0.0</text>
<text x="374.60" y="309.30" font-size="5.5" text-anchor="end" font-weight="normal" fill="#4d4d4d">-2.5</text>
<text x="374.60" y="351.60" font-size="5.5" text-anchor="end" font-weight="normal" fill="#4d4d4d">-5.0</text>
<text x="374.60" y="394.00" font-size="5.5" text-anchor="end" font-weight="normal" fill="#4d4d4d">-7.5</text>
<text transform="translate(381.70 401.80) rotate(-45)" x="0" y="1.79" font-size="5.0" text-anchor="middle" fill="#333" stroke="#333" stroke-width="0.2">25</text>
<text transform="translate(401.45 401.80) rotate(-45)" x="0" y="1.79" font-size="5.0" text-anchor="middle" fill="#333" stroke="#333" stroke-width="0.2">30</text>
<text transform="translate(421.20 401.80) rotate(-45)" x="0" y="1.79" font-size="5.0" text-anchor="middle" fill="#333" stroke="#333" stroke-width="0.2">35</text>
<text transform="translate(440.95 401.80) rotate(-45)" x="0" y="1.79" font-size="5.0" text-anchor="middle" fill="#333" stroke="#333" stroke-width="0.2">40</text>
<text transform="translate(460.70 401.80) rotate(-45)" x="0" y="1.79" font-size="5.0" text-anchor="middle" fill="#333" stroke="#333" stroke-width="0.2">45</text>
<text transform="translate(480.45 401.80) rotate(-45)" x="0" y="1.79" font-size="5.0" text-anchor="middle" fill="#333" stroke="#333" stroke-width="0.2">50</text>
<text transform="translate(500.20 401.80) rotate(-45)" x="0" y="1.79" font-size="5.0" text-anchor="middle" fill="#333" stroke="#333" stroke-width="0.2">55</text>
<text transform="translate(519.95 401.80) rotate(-45)" x="0" y="1.79" font-size="5.0" text-anchor="middle" fill="#333" stroke="#333" stroke-width="0.2">60</text>
<text transform="translate(539.70 401.80) rotate(-45)" x="0" y="1.79" font-size="5.0" text-anchor="middle" fill="#333" stroke="#333" stroke-width="0.2">65</text>
<text transform="translate(559.45 401.80) rotate(-45)" x="0" y="1.79" font-size="5.0" text-anchor="middle" fill="#333" stroke="#333" stroke-width="0.2">70</text>
<text transform="translate(579.20 401.80) rotate(-45)" x="0" y="1.79" font-size="5.0" text-anchor="middle" fill="#333" stroke="#333" stroke-width="0.2">75</text>
<text transform="translate(598.95 401.80) rotate(-45)" x="0" y="1.79" font-size="5.0" text-anchor="middle" fill="#333" stroke="#333" stroke-width="0.2">80</text>
<text transform="translate(618.70 401.80) rotate(-45)" x="0" y="1.79" font-size="5.0" text-anchor="middle" fill="#333" stroke="#333" stroke-width="0.2">85</text>
<text transform="translate(638.45 401.80) rotate(-45)" x="0" y="1.79" font-size="5.0" text-anchor="middle" fill="#333" stroke="#333" stroke-width="0.2">90</text>
<text transform="translate(658.20 401.80) rotate(-45)" x="0" y="1.79" font-size="5.0" text-anchor="middle" fill="#333" stroke="#333" stroke-width="0.2">95</text>
<text x="531.00" y="412.40" font-size="7" text-anchor="middle" font-weight="bold" fill="#000">Age</text>
<text x="362.30" y="302.30" font-size="7" text-anchor="middle" font-weight="bold" fill="#000" transform="rotate(-90 362.30 302.30)">Percent Change per Year</text>
<text x="347.00" y="221.00" font-size="17.8" text-anchor="start" font-weight="bold" fill="#000">D</text>
</svg>
</body></html>
